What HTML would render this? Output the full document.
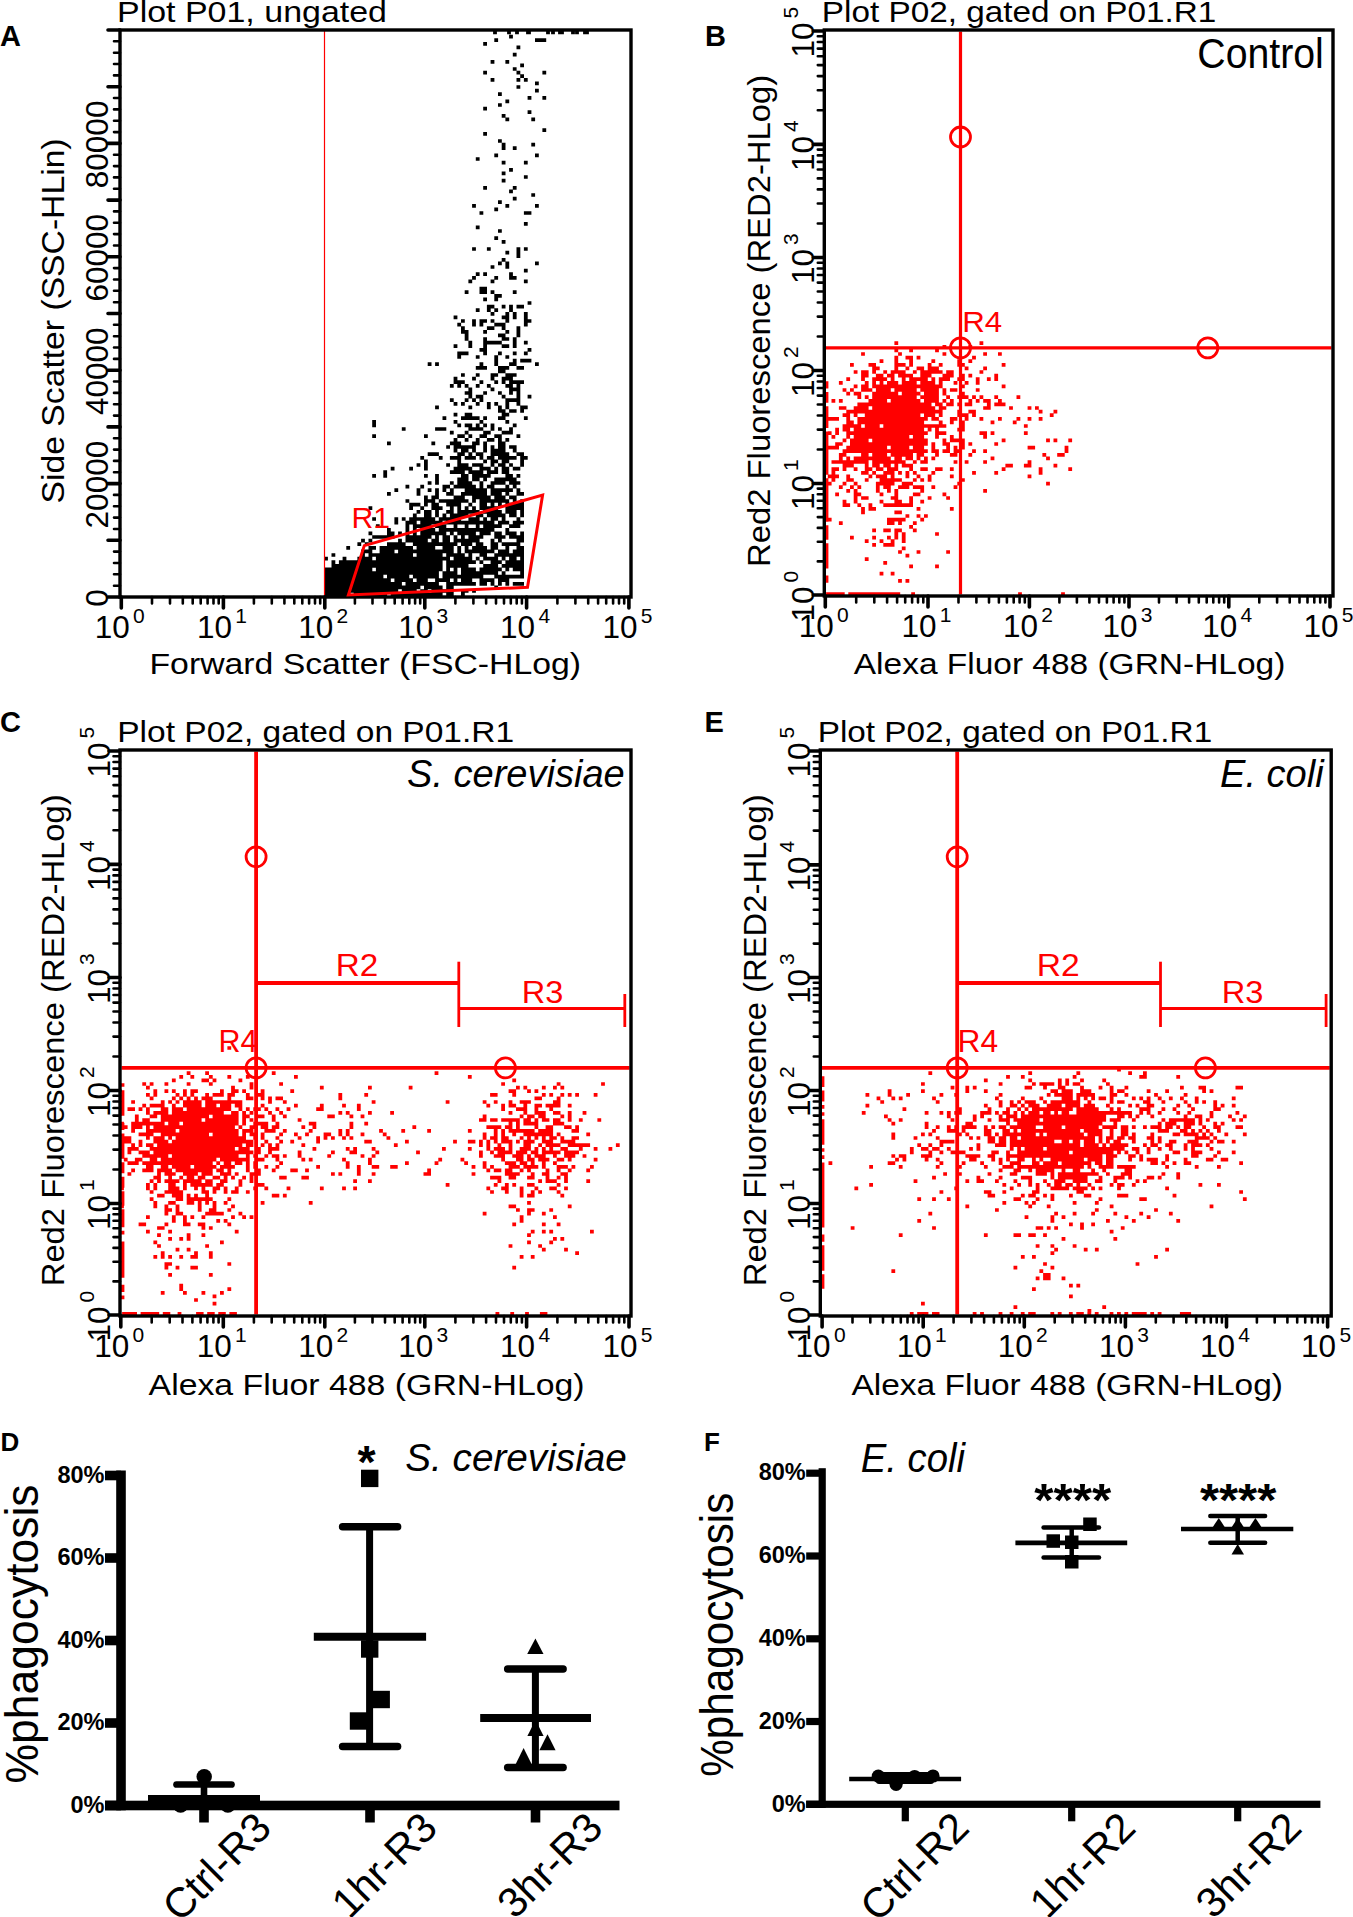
<!DOCTYPE html>
<html><head><meta charset="utf-8"><style>
html,body{margin:0;padding:0;background:#fff;overflow:hidden;}
svg{display:block;}
text{font-family:"Liberation Sans", sans-serif;}
</style></head><body>
<svg width="1353" height="1917" viewBox="0 0 1353 1917">
<path d="M509.1 36.6h3.8M494.3 40.2h3.8M535.0 40.2h3.8M538.7 40.2h3.8M542.4 40.2h3.8M483.2 43.8h3.8M516.5 47.4h3.8M512.8 54.6h3.8M490.6 61.8h3.8M505.4 61.8h3.8M520.2 65.4h3.8M512.8 69.0h3.8M483.2 72.6h3.8M516.5 72.6h3.8M542.4 72.6h3.8M520.2 76.2h3.8M490.6 79.8h3.8M516.5 79.8h3.8M523.9 79.8h3.8M535.0 83.4h3.8M516.5 87.0h3.8M535.0 90.6h3.8M498.0 94.2h3.8M527.6 97.8h3.8M542.4 97.8h3.8M505.4 101.4h3.8M498.0 105.0h3.8M483.2 108.6h3.8M527.6 112.2h3.8M501.7 115.8h3.8M505.4 119.4h3.8M531.3 119.4h3.8M542.4 130.2h3.8M483.2 133.8h3.8M498.0 141.0h3.8M501.7 144.6h3.8M531.3 144.6h3.8M501.7 148.2h3.8M512.8 148.2h3.8M494.3 155.4h3.8M535.0 155.4h3.8M475.8 159.0h3.8M501.7 162.6h3.8M523.9 162.6h3.8M509.1 169.8h3.8M501.7 173.4h3.8M523.9 177.0h3.8M501.7 180.6h3.8M483.2 187.8h3.8M512.8 187.8h3.8M509.1 191.4h3.8M531.3 195.0h3.8M512.8 198.6h3.8M498.0 202.2h3.8M472.1 205.8h3.8M505.4 205.8h3.8M535.0 205.8h3.8M494.3 209.4h3.8M479.5 213.0h3.8M523.9 213.0h3.8M527.6 213.0h3.8M523.9 223.8h3.8M475.8 227.4h3.8M498.0 231.0h3.8M494.3 238.2h3.8M501.7 241.8h3.8M472.1 249.0h3.8M486.9 249.0h3.8M516.5 249.0h3.8M523.9 249.0h3.8M505.4 252.6h3.8M516.5 252.6h3.8M516.5 256.2h3.8M501.7 259.8h3.8M498.0 263.4h3.8M505.4 263.4h3.8M535.0 263.4h3.8M490.6 267.0h3.8M505.4 267.0h3.8M523.9 270.6h3.8M475.8 274.2h3.8M483.2 274.2h3.8M509.1 274.2h3.8M472.1 277.8h3.8M494.3 277.8h3.8M509.1 277.8h3.8M512.8 277.8h3.8M468.4 281.4h3.8M490.6 281.4h3.8M523.9 281.4h3.8M479.5 288.6h3.8M483.2 288.6h3.8M464.7 292.2h3.8M479.5 292.2h3.8M483.2 292.2h3.8M490.6 292.2h3.8M512.8 292.2h3.8M494.3 295.8h3.8M498.0 295.8h3.8M483.2 299.4h3.8M494.3 299.4h3.8M527.6 303.0h3.8M486.9 306.6h3.8M490.6 306.6h3.8M501.7 306.6h3.8M509.1 306.6h3.8M516.5 306.6h3.8M520.2 306.6h3.8M475.8 310.2h3.8M486.9 310.2h3.8M494.3 310.2h3.8M509.1 310.2h3.8M490.6 313.8h3.8M505.4 313.8h3.8M512.8 313.8h3.8M523.9 313.8h3.8M453.6 317.4h3.8M501.7 317.4h3.8M505.4 317.4h3.8M512.8 317.4h3.8M523.9 317.4h3.8M461.0 321.0h3.8M472.1 321.0h3.8M479.5 321.0h3.8M483.2 321.0h3.8M490.6 321.0h3.8M505.4 321.0h3.8M523.9 321.0h3.8M527.6 321.0h3.8M457.3 324.6h3.8M472.1 324.6h3.8M479.5 324.6h3.8M494.3 324.6h3.8M498.0 324.6h3.8M501.7 324.6h3.8M523.9 324.6h3.8M461.0 328.2h3.8M486.9 328.2h3.8M490.6 328.2h3.8M501.7 328.2h3.8M516.5 328.2h3.8M461.0 331.8h3.8M464.7 331.8h3.8M483.2 331.8h3.8M505.4 331.8h3.8M516.5 331.8h3.8M464.7 335.4h3.8M498.0 335.4h3.8M501.7 335.4h3.8M516.5 335.4h3.8M464.7 339.0h3.8M483.2 339.0h3.8M501.7 339.0h3.8M505.4 339.0h3.8M512.8 339.0h3.8M468.4 342.6h3.8M483.2 342.6h3.8M486.9 342.6h3.8M490.6 342.6h3.8M494.3 342.6h3.8M498.0 342.6h3.8M512.8 342.6h3.8M523.9 342.6h3.8M453.6 346.2h3.8M468.4 346.2h3.8M483.2 346.2h3.8M501.7 346.2h3.8M505.4 346.2h3.8M512.8 346.2h3.8M479.5 349.8h3.8M483.2 349.8h3.8M527.6 349.8h3.8M457.3 353.4h3.8M461.0 353.4h3.8M464.7 353.4h3.8M483.2 353.4h3.8M498.0 353.4h3.8M512.8 353.4h3.8M523.9 353.4h3.8M457.3 357.0h3.8M475.8 357.0h3.8M494.3 357.0h3.8M505.4 357.0h3.8M494.3 360.6h3.8M512.8 360.6h3.8M520.2 360.6h3.8M523.9 360.6h3.8M527.6 360.6h3.8M427.7 364.2h3.8M435.1 364.2h3.8M479.5 364.2h3.8M494.3 364.2h3.8M509.1 364.2h3.8M512.8 364.2h3.8M535.0 364.2h3.8M475.8 367.8h3.8M479.5 367.8h3.8M483.2 367.8h3.8M498.0 367.8h3.8M501.7 367.8h3.8M505.4 367.8h3.8M516.5 367.8h3.8M520.2 367.8h3.8M498.0 371.4h3.8M501.7 371.4h3.8M461.0 375.0h3.8M475.8 375.0h3.8M490.6 375.0h3.8M494.3 375.0h3.8M505.4 375.0h3.8M509.1 375.0h3.8M512.8 375.0h3.8M453.6 378.6h3.8M472.1 378.6h3.8M490.6 378.6h3.8M501.7 378.6h3.8M505.4 378.6h3.8M509.1 378.6h3.8M453.6 382.2h3.8M457.3 382.2h3.8M461.0 382.2h3.8M479.5 382.2h3.8M494.3 382.2h3.8M501.7 382.2h3.8M509.1 382.2h3.8M512.8 382.2h3.8M516.5 382.2h3.8M520.2 382.2h3.8M449.9 385.8h3.8M457.3 385.8h3.8M464.7 385.8h3.8M475.8 385.8h3.8M486.9 385.8h3.8M505.4 385.8h3.8M509.1 385.8h3.8M516.5 385.8h3.8M468.4 389.4h3.8M490.6 389.4h3.8M509.1 389.4h3.8M512.8 389.4h3.8M516.5 389.4h3.8M464.7 393.0h3.8M468.4 393.0h3.8M483.2 393.0h3.8M498.0 393.0h3.8M509.1 393.0h3.8M516.5 393.0h3.8M468.4 396.6h3.8M475.8 396.6h3.8M479.5 396.6h3.8M501.7 396.6h3.8M516.5 396.6h3.8M527.6 396.6h3.8M449.9 400.2h3.8M464.7 400.2h3.8M472.1 400.2h3.8M479.5 400.2h3.8M505.4 400.2h3.8M509.1 400.2h3.8M512.8 400.2h3.8M516.5 400.2h3.8M453.6 403.8h3.8M461.0 403.8h3.8M475.8 403.8h3.8M486.9 403.8h3.8M494.3 403.8h3.8M505.4 403.8h3.8M516.5 403.8h3.8M435.1 407.4h3.8M468.4 407.4h3.8M486.9 407.4h3.8M498.0 407.4h3.8M505.4 407.4h3.8M520.2 407.4h3.8M523.9 407.4h3.8M498.0 411.0h3.8M501.7 411.0h3.8M509.1 411.0h3.8M512.8 411.0h3.8M520.2 411.0h3.8M453.6 414.6h3.8M464.7 414.6h3.8M468.4 414.6h3.8M501.7 414.6h3.8M505.4 414.6h3.8M442.5 418.2h3.8M461.0 418.2h3.8M464.7 418.2h3.8M468.4 418.2h3.8M472.1 418.2h3.8M475.8 418.2h3.8M483.2 418.2h3.8M498.0 418.2h3.8M501.7 418.2h3.8M523.9 418.2h3.8M372.2 421.8h3.8M453.6 421.8h3.8M479.5 421.8h3.8M505.4 421.8h3.8M372.2 425.4h3.8M457.3 425.4h3.8M464.7 425.4h3.8M468.4 425.4h3.8M475.8 425.4h3.8M483.2 425.4h3.8M490.6 425.4h3.8M512.8 425.4h3.8M401.8 429.0h3.8M435.1 429.0h3.8M438.8 429.0h3.8M442.5 429.0h3.8M468.4 429.0h3.8M472.1 429.0h3.8M475.8 429.0h3.8M479.5 429.0h3.8M490.6 429.0h3.8M498.0 429.0h3.8M509.1 429.0h3.8M449.9 432.6h3.8M464.7 432.6h3.8M483.2 432.6h3.8M486.9 432.6h3.8M501.7 432.6h3.8M505.4 432.6h3.8M509.1 432.6h3.8M372.2 436.2h3.8M424.0 436.2h3.8M457.3 436.2h3.8M461.0 436.2h3.8M468.4 436.2h3.8M479.5 436.2h3.8M483.2 436.2h3.8M494.3 436.2h3.8M498.0 436.2h3.8M516.5 436.2h3.8M453.6 439.8h3.8M464.7 439.8h3.8M475.8 439.8h3.8M486.9 439.8h3.8M490.6 439.8h3.8M498.0 439.8h3.8M505.4 439.8h3.8M387.0 443.4h3.8M431.4 443.4h3.8M449.9 443.4h3.8M453.6 443.4h3.8M457.3 443.4h3.8M472.1 443.4h3.8M475.8 443.4h3.8M483.2 443.4h3.8M498.0 443.4h3.8M501.7 443.4h3.8M446.2 447.0h3.8M453.6 447.0h3.8M457.3 447.0h3.8M461.0 447.0h3.8M464.7 447.0h3.8M468.4 447.0h3.8M472.1 447.0h3.8M483.2 447.0h3.8M490.6 447.0h3.8M498.0 447.0h3.8M501.7 447.0h3.8M509.1 447.0h3.8M512.8 447.0h3.8M453.6 450.6h3.8M461.0 450.6h3.8M464.7 450.6h3.8M472.1 450.6h3.8M483.2 450.6h3.8M490.6 450.6h3.8M494.3 450.6h3.8M498.0 450.6h3.8M501.7 450.6h3.8M512.8 450.6h3.8M427.7 454.2h3.8M431.4 454.2h3.8M435.1 454.2h3.8M457.3 454.2h3.8M461.0 454.2h3.8M468.4 454.2h3.8M475.8 454.2h3.8M479.5 454.2h3.8M490.6 454.2h3.8M494.3 454.2h3.8M498.0 454.2h3.8M501.7 454.2h3.8M505.4 454.2h3.8M516.5 454.2h3.8M520.2 454.2h3.8M420.3 457.8h3.8M438.8 457.8h3.8M449.9 457.8h3.8M453.6 457.8h3.8M457.3 457.8h3.8M464.7 457.8h3.8M468.4 457.8h3.8M472.1 457.8h3.8M479.5 457.8h3.8M486.9 457.8h3.8M490.6 457.8h3.8M498.0 457.8h3.8M501.7 457.8h3.8M505.4 457.8h3.8M509.1 457.8h3.8M512.8 457.8h3.8M520.2 457.8h3.8M523.9 457.8h3.8M424.0 461.4h3.8M457.3 461.4h3.8M483.2 461.4h3.8M490.6 461.4h3.8M494.3 461.4h3.8M501.7 461.4h3.8M505.4 461.4h3.8M520.2 461.4h3.8M416.6 465.0h3.8M424.0 465.0h3.8M446.2 465.0h3.8M457.3 465.0h3.8M461.0 465.0h3.8M464.7 465.0h3.8M472.1 465.0h3.8M475.8 465.0h3.8M479.5 465.0h3.8M490.6 465.0h3.8M498.0 465.0h3.8M501.7 465.0h3.8M509.1 465.0h3.8M520.2 465.0h3.8M390.7 468.6h3.8M409.2 468.6h3.8M424.0 468.6h3.8M453.6 468.6h3.8M457.3 468.6h3.8M461.0 468.6h3.8M464.7 468.6h3.8M468.4 468.6h3.8M479.5 468.6h3.8M483.2 468.6h3.8M486.9 468.6h3.8M494.3 468.6h3.8M501.7 468.6h3.8M505.4 468.6h3.8M512.8 468.6h3.8M516.5 468.6h3.8M383.3 472.2h3.8M449.9 472.2h3.8M453.6 472.2h3.8M457.3 472.2h3.8M461.0 472.2h3.8M468.4 472.2h3.8M472.1 472.2h3.8M475.8 472.2h3.8M479.5 472.2h3.8M486.9 472.2h3.8M490.6 472.2h3.8M494.3 472.2h3.8M501.7 472.2h3.8M505.4 472.2h3.8M372.2 475.8h3.8M383.3 475.8h3.8M424.0 475.8h3.8M435.1 475.8h3.8M461.0 475.8h3.8M464.7 475.8h3.8M472.1 475.8h3.8M475.8 475.8h3.8M479.5 475.8h3.8M483.2 475.8h3.8M486.9 475.8h3.8M505.4 475.8h3.8M509.1 475.8h3.8M516.5 475.8h3.8M435.1 479.4h3.8M457.3 479.4h3.8M461.0 479.4h3.8M464.7 479.4h3.8M472.1 479.4h3.8M475.8 479.4h3.8M483.2 479.4h3.8M494.3 479.4h3.8M498.0 479.4h3.8M501.7 479.4h3.8M505.4 479.4h3.8M509.1 479.4h3.8M512.8 479.4h3.8M427.7 483.0h3.8M435.1 483.0h3.8M449.9 483.0h3.8M457.3 483.0h3.8M461.0 483.0h3.8M464.7 483.0h3.8M468.4 483.0h3.8M479.5 483.0h3.8M490.6 483.0h3.8M494.3 483.0h3.8M498.0 483.0h3.8M501.7 483.0h3.8M509.1 483.0h3.8M512.8 483.0h3.8M516.5 483.0h3.8M405.5 486.6h3.8M420.3 486.6h3.8M442.5 486.6h3.8M446.2 486.6h3.8M453.6 486.6h3.8M457.3 486.6h3.8M461.0 486.6h3.8M464.7 486.6h3.8M468.4 486.6h3.8M472.1 486.6h3.8M479.5 486.6h3.8M486.9 486.6h3.8M490.6 486.6h3.8M505.4 486.6h3.8M512.8 486.6h3.8M394.4 490.2h3.8M416.6 490.2h3.8M427.7 490.2h3.8M435.1 490.2h3.8M442.5 490.2h3.8M449.9 490.2h3.8M464.7 490.2h3.8M468.4 490.2h3.8M472.1 490.2h3.8M475.8 490.2h3.8M479.5 490.2h3.8M483.2 490.2h3.8M490.6 490.2h3.8M494.3 490.2h3.8M498.0 490.2h3.8M501.7 490.2h3.8M505.4 490.2h3.8M509.1 490.2h3.8M516.5 490.2h3.8M387.0 493.8h3.8M416.6 493.8h3.8M435.1 493.8h3.8M446.2 493.8h3.8M449.9 493.8h3.8M461.0 493.8h3.8M464.7 493.8h3.8M468.4 493.8h3.8M472.1 493.8h3.8M475.8 493.8h3.8M479.5 493.8h3.8M483.2 493.8h3.8M490.6 493.8h3.8M494.3 493.8h3.8M498.0 493.8h3.8M505.4 493.8h3.8M516.5 493.8h3.8M520.2 493.8h3.8M424.0 497.4h3.8M431.4 497.4h3.8M435.1 497.4h3.8M453.6 497.4h3.8M457.3 497.4h3.8M461.0 497.4h3.8M472.1 497.4h3.8M475.8 497.4h3.8M479.5 497.4h3.8M483.2 497.4h3.8M486.9 497.4h3.8M494.3 497.4h3.8M498.0 497.4h3.8M501.7 497.4h3.8M509.1 497.4h3.8M512.8 497.4h3.8M405.5 501.0h3.8M424.0 501.0h3.8M427.7 501.0h3.8M431.4 501.0h3.8M438.8 501.0h3.8M442.5 501.0h3.8M446.2 501.0h3.8M449.9 501.0h3.8M453.6 501.0h3.8M457.3 501.0h3.8M461.0 501.0h3.8M464.7 501.0h3.8M472.1 501.0h3.8M479.5 501.0h3.8M483.2 501.0h3.8M486.9 501.0h3.8M490.6 501.0h3.8M494.3 501.0h3.8M498.0 501.0h3.8M501.7 501.0h3.8M505.4 501.0h3.8M512.8 501.0h3.8M520.2 501.0h3.8M409.2 504.6h3.8M412.9 504.6h3.8M416.6 504.6h3.8M424.0 504.6h3.8M431.4 504.6h3.8M435.1 504.6h3.8M446.2 504.6h3.8M449.9 504.6h3.8M453.6 504.6h3.8M457.3 504.6h3.8M468.4 504.6h3.8M479.5 504.6h3.8M483.2 504.6h3.8M490.6 504.6h3.8M498.0 504.6h3.8M505.4 504.6h3.8M509.1 504.6h3.8M512.8 504.6h3.8M516.5 504.6h3.8M520.2 504.6h3.8M368.5 508.2h3.8M409.2 508.2h3.8M420.3 508.2h3.8M431.4 508.2h3.8M435.1 508.2h3.8M438.8 508.2h3.8M449.9 508.2h3.8M457.3 508.2h3.8M464.7 508.2h3.8M472.1 508.2h3.8M479.5 508.2h3.8M483.2 508.2h3.8M486.9 508.2h3.8M490.6 508.2h3.8M494.3 508.2h3.8M505.4 508.2h3.8M509.1 508.2h3.8M512.8 508.2h3.8M516.5 508.2h3.8M520.2 508.2h3.8M416.6 511.8h3.8M424.0 511.8h3.8M427.7 511.8h3.8M435.1 511.8h3.8M446.2 511.8h3.8M449.9 511.8h3.8M457.3 511.8h3.8M461.0 511.8h3.8M464.7 511.8h3.8M468.4 511.8h3.8M472.1 511.8h3.8M475.8 511.8h3.8M483.2 511.8h3.8M486.9 511.8h3.8M490.6 511.8h3.8M494.3 511.8h3.8M498.0 511.8h3.8M505.4 511.8h3.8M509.1 511.8h3.8M512.8 511.8h3.8M520.2 511.8h3.8M412.9 515.4h3.8M424.0 515.4h3.8M427.7 515.4h3.8M435.1 515.4h3.8M442.5 515.4h3.8M449.9 515.4h3.8M453.6 515.4h3.8M457.3 515.4h3.8M461.0 515.4h3.8M464.7 515.4h3.8M475.8 515.4h3.8M479.5 515.4h3.8M486.9 515.4h3.8M490.6 515.4h3.8M494.3 515.4h3.8M498.0 515.4h3.8M501.7 515.4h3.8M509.1 515.4h3.8M512.8 515.4h3.8M520.2 515.4h3.8M372.2 519.0h3.8M394.4 519.0h3.8M401.8 519.0h3.8M409.2 519.0h3.8M412.9 519.0h3.8M416.6 519.0h3.8M420.3 519.0h3.8M424.0 519.0h3.8M427.7 519.0h3.8M431.4 519.0h3.8M438.8 519.0h3.8M442.5 519.0h3.8M446.2 519.0h3.8M449.9 519.0h3.8M453.6 519.0h3.8M457.3 519.0h3.8M468.4 519.0h3.8M472.1 519.0h3.8M475.8 519.0h3.8M483.2 519.0h3.8M490.6 519.0h3.8M494.3 519.0h3.8M501.7 519.0h3.8M516.5 519.0h3.8M394.4 522.6h3.8M405.5 522.6h3.8M409.2 522.6h3.8M412.9 522.6h3.8M420.3 522.6h3.8M424.0 522.6h3.8M427.7 522.6h3.8M431.4 522.6h3.8M435.1 522.6h3.8M438.8 522.6h3.8M446.2 522.6h3.8M449.9 522.6h3.8M453.6 522.6h3.8M457.3 522.6h3.8M461.0 522.6h3.8M464.7 522.6h3.8M468.4 522.6h3.8M472.1 522.6h3.8M475.8 522.6h3.8M479.5 522.6h3.8M483.2 522.6h3.8M486.9 522.6h3.8M490.6 522.6h3.8M498.0 522.6h3.8M501.7 522.6h3.8M505.4 522.6h3.8M512.8 522.6h3.8M516.5 522.6h3.8M520.2 522.6h3.8M375.9 526.2h3.8M405.5 526.2h3.8M412.9 526.2h3.8M416.6 526.2h3.8M420.3 526.2h3.8M424.0 526.2h3.8M427.7 526.2h3.8M435.1 526.2h3.8M438.8 526.2h3.8M442.5 526.2h3.8M453.6 526.2h3.8M464.7 526.2h3.8M475.8 526.2h3.8M483.2 526.2h3.8M486.9 526.2h3.8M490.6 526.2h3.8M494.3 526.2h3.8M498.0 526.2h3.8M509.1 526.2h3.8M512.8 526.2h3.8M516.5 526.2h3.8M387.0 529.8h3.8M405.5 529.8h3.8M412.9 529.8h3.8M420.3 529.8h3.8M424.0 529.8h3.8M427.7 529.8h3.8M431.4 529.8h3.8M438.8 529.8h3.8M442.5 529.8h3.8M446.2 529.8h3.8M449.9 529.8h3.8M453.6 529.8h3.8M457.3 529.8h3.8M461.0 529.8h3.8M464.7 529.8h3.8M468.4 529.8h3.8M472.1 529.8h3.8M475.8 529.8h3.8M479.5 529.8h3.8M483.2 529.8h3.8M486.9 529.8h3.8M490.6 529.8h3.8M505.4 529.8h3.8M368.5 533.4h3.8M387.0 533.4h3.8M390.7 533.4h3.8M398.1 533.4h3.8M405.5 533.4h3.8M412.9 533.4h3.8M420.3 533.4h3.8M424.0 533.4h3.8M427.7 533.4h3.8M431.4 533.4h3.8M435.1 533.4h3.8M438.8 533.4h3.8M442.5 533.4h3.8M449.9 533.4h3.8M457.3 533.4h3.8M461.0 533.4h3.8M464.7 533.4h3.8M468.4 533.4h3.8M472.1 533.4h3.8M479.5 533.4h3.8M483.2 533.4h3.8M486.9 533.4h3.8M494.3 533.4h3.8M498.0 533.4h3.8M505.4 533.4h3.8M509.1 533.4h3.8M512.8 533.4h3.8M520.2 533.4h3.8M372.2 537.0h3.8M375.9 537.0h3.8M379.6 537.0h3.8M383.3 537.0h3.8M387.0 537.0h3.8M390.7 537.0h3.8M405.5 537.0h3.8M409.2 537.0h3.8M412.9 537.0h3.8M416.6 537.0h3.8M420.3 537.0h3.8M424.0 537.0h3.8M427.7 537.0h3.8M435.1 537.0h3.8M442.5 537.0h3.8M446.2 537.0h3.8M453.6 537.0h3.8M461.0 537.0h3.8M468.4 537.0h3.8M472.1 537.0h3.8M475.8 537.0h3.8M479.5 537.0h3.8M494.3 537.0h3.8M498.0 537.0h3.8M501.7 537.0h3.8M509.1 537.0h3.8M512.8 537.0h3.8M516.5 537.0h3.8M520.2 537.0h3.8M361.1 540.6h3.8M368.5 540.6h3.8M398.1 540.6h3.8M405.5 540.6h3.8M409.2 540.6h3.8M412.9 540.6h3.8M416.6 540.6h3.8M420.3 540.6h3.8M424.0 540.6h3.8M431.4 540.6h3.8M435.1 540.6h3.8M442.5 540.6h3.8M446.2 540.6h3.8M453.6 540.6h3.8M457.3 540.6h3.8M461.0 540.6h3.8M464.7 540.6h3.8M468.4 540.6h3.8M472.1 540.6h3.8M475.8 540.6h3.8M490.6 540.6h3.8M498.0 540.6h3.8M516.5 540.6h3.8M520.2 540.6h3.8M357.4 544.2h3.8M364.8 544.2h3.8M387.0 544.2h3.8M390.7 544.2h3.8M394.4 544.2h3.8M398.1 544.2h3.8M401.8 544.2h3.8M412.9 544.2h3.8M416.6 544.2h3.8M420.3 544.2h3.8M424.0 544.2h3.8M427.7 544.2h3.8M431.4 544.2h3.8M435.1 544.2h3.8M438.8 544.2h3.8M442.5 544.2h3.8M446.2 544.2h3.8M449.9 544.2h3.8M453.6 544.2h3.8M461.0 544.2h3.8M464.7 544.2h3.8M468.4 544.2h3.8M475.8 544.2h3.8M479.5 544.2h3.8M490.6 544.2h3.8M494.3 544.2h3.8M501.7 544.2h3.8M505.4 544.2h3.8M509.1 544.2h3.8M512.8 544.2h3.8M516.5 544.2h3.8M346.3 547.8h3.8M368.5 547.8h3.8M372.2 547.8h3.8M379.6 547.8h3.8M383.3 547.8h3.8M387.0 547.8h3.8M390.7 547.8h3.8M394.4 547.8h3.8M398.1 547.8h3.8M401.8 547.8h3.8M405.5 547.8h3.8M409.2 547.8h3.8M416.6 547.8h3.8M420.3 547.8h3.8M424.0 547.8h3.8M427.7 547.8h3.8M431.4 547.8h3.8M442.5 547.8h3.8M446.2 547.8h3.8M449.9 547.8h3.8M457.3 547.8h3.8M464.7 547.8h3.8M472.1 547.8h3.8M475.8 547.8h3.8M479.5 547.8h3.8M483.2 547.8h3.8M490.6 547.8h3.8M494.3 547.8h3.8M505.4 547.8h3.8M516.5 547.8h3.8M520.2 547.8h3.8M361.1 551.4h3.8M364.8 551.4h3.8M368.5 551.4h3.8M379.6 551.4h3.8M383.3 551.4h3.8M387.0 551.4h3.8M390.7 551.4h3.8M398.1 551.4h3.8M401.8 551.4h3.8M405.5 551.4h3.8M409.2 551.4h3.8M412.9 551.4h3.8M416.6 551.4h3.8M420.3 551.4h3.8M424.0 551.4h3.8M427.7 551.4h3.8M431.4 551.4h3.8M435.1 551.4h3.8M438.8 551.4h3.8M442.5 551.4h3.8M446.2 551.4h3.8M449.9 551.4h3.8M457.3 551.4h3.8M464.7 551.4h3.8M468.4 551.4h3.8M472.1 551.4h3.8M475.8 551.4h3.8M479.5 551.4h3.8M483.2 551.4h3.8M486.9 551.4h3.8M490.6 551.4h3.8M498.0 551.4h3.8M501.7 551.4h3.8M505.4 551.4h3.8M512.8 551.4h3.8M516.5 551.4h3.8M520.2 551.4h3.8M331.5 555.0h3.8M361.1 555.0h3.8M368.5 555.0h3.8M372.2 555.0h3.8M375.9 555.0h3.8M379.6 555.0h3.8M383.3 555.0h3.8M387.0 555.0h3.8M390.7 555.0h3.8M394.4 555.0h3.8M398.1 555.0h3.8M401.8 555.0h3.8M405.5 555.0h3.8M409.2 555.0h3.8M416.6 555.0h3.8M420.3 555.0h3.8M424.0 555.0h3.8M427.7 555.0h3.8M431.4 555.0h3.8M435.1 555.0h3.8M438.8 555.0h3.8M446.2 555.0h3.8M449.9 555.0h3.8M453.6 555.0h3.8M457.3 555.0h3.8M461.0 555.0h3.8M468.4 555.0h3.8M479.5 555.0h3.8M483.2 555.0h3.8M494.3 555.0h3.8M498.0 555.0h3.8M501.7 555.0h3.8M505.4 555.0h3.8M509.1 555.0h3.8M512.8 555.0h3.8M516.5 555.0h3.8M520.2 555.0h3.8M324.1 558.6h3.8M342.6 558.6h3.8M357.4 558.6h3.8M361.1 558.6h3.8M364.8 558.6h3.8M368.5 558.6h3.8M375.9 558.6h3.8M379.6 558.6h3.8M383.3 558.6h3.8M387.0 558.6h3.8M390.7 558.6h3.8M394.4 558.6h3.8M398.1 558.6h3.8M401.8 558.6h3.8M405.5 558.6h3.8M409.2 558.6h3.8M412.9 558.6h3.8M416.6 558.6h3.8M420.3 558.6h3.8M424.0 558.6h3.8M427.7 558.6h3.8M431.4 558.6h3.8M435.1 558.6h3.8M438.8 558.6h3.8M442.5 558.6h3.8M446.2 558.6h3.8M453.6 558.6h3.8M457.3 558.6h3.8M461.0 558.6h3.8M464.7 558.6h3.8M468.4 558.6h3.8M475.8 558.6h3.8M483.2 558.6h3.8M486.9 558.6h3.8M490.6 558.6h3.8M494.3 558.6h3.8M501.7 558.6h3.8M509.1 558.6h3.8M512.8 558.6h3.8M520.2 558.6h3.8M331.5 562.2h3.8M338.9 562.2h3.8M342.6 562.2h3.8M346.3 562.2h3.8M350.0 562.2h3.8M353.7 562.2h3.8M357.4 562.2h3.8M361.1 562.2h3.8M364.8 562.2h3.8M368.5 562.2h3.8M372.2 562.2h3.8M375.9 562.2h3.8M379.6 562.2h3.8M383.3 562.2h3.8M387.0 562.2h3.8M390.7 562.2h3.8M394.4 562.2h3.8M398.1 562.2h3.8M401.8 562.2h3.8M405.5 562.2h3.8M409.2 562.2h3.8M412.9 562.2h3.8M416.6 562.2h3.8M420.3 562.2h3.8M424.0 562.2h3.8M427.7 562.2h3.8M431.4 562.2h3.8M435.1 562.2h3.8M438.8 562.2h3.8M446.2 562.2h3.8M449.9 562.2h3.8M453.6 562.2h3.8M457.3 562.2h3.8M461.0 562.2h3.8M464.7 562.2h3.8M468.4 562.2h3.8M472.1 562.2h3.8M479.5 562.2h3.8M490.6 562.2h3.8M494.3 562.2h3.8M498.0 562.2h3.8M505.4 562.2h3.8M509.1 562.2h3.8M512.8 562.2h3.8M516.5 562.2h3.8M520.2 562.2h3.8M331.5 565.8h3.8M335.2 565.8h3.8M338.9 565.8h3.8M342.6 565.8h3.8M346.3 565.8h3.8M350.0 565.8h3.8M353.7 565.8h3.8M357.4 565.8h3.8M361.1 565.8h3.8M364.8 565.8h3.8M368.5 565.8h3.8M372.2 565.8h3.8M375.9 565.8h3.8M379.6 565.8h3.8M383.3 565.8h3.8M387.0 565.8h3.8M390.7 565.8h3.8M394.4 565.8h3.8M398.1 565.8h3.8M401.8 565.8h3.8M405.5 565.8h3.8M409.2 565.8h3.8M412.9 565.8h3.8M416.6 565.8h3.8M420.3 565.8h3.8M424.0 565.8h3.8M427.7 565.8h3.8M431.4 565.8h3.8M435.1 565.8h3.8M438.8 565.8h3.8M446.2 565.8h3.8M449.9 565.8h3.8M453.6 565.8h3.8M457.3 565.8h3.8M461.0 565.8h3.8M464.7 565.8h3.8M483.2 565.8h3.8M486.9 565.8h3.8M490.6 565.8h3.8M494.3 565.8h3.8M501.7 565.8h3.8M505.4 565.8h3.8M509.1 565.8h3.8M512.8 565.8h3.8M516.5 565.8h3.8M520.2 565.8h3.8M324.1 569.4h3.8M327.8 569.4h3.8M331.5 569.4h3.8M335.2 569.4h3.8M338.9 569.4h3.8M342.6 569.4h3.8M346.3 569.4h3.8M350.0 569.4h3.8M353.7 569.4h3.8M357.4 569.4h3.8M361.1 569.4h3.8M364.8 569.4h3.8M368.5 569.4h3.8M375.9 569.4h3.8M379.6 569.4h3.8M383.3 569.4h3.8M387.0 569.4h3.8M390.7 569.4h3.8M394.4 569.4h3.8M398.1 569.4h3.8M401.8 569.4h3.8M405.5 569.4h3.8M409.2 569.4h3.8M412.9 569.4h3.8M416.6 569.4h3.8M420.3 569.4h3.8M424.0 569.4h3.8M427.7 569.4h3.8M431.4 569.4h3.8M435.1 569.4h3.8M438.8 569.4h3.8M446.2 569.4h3.8M453.6 569.4h3.8M461.0 569.4h3.8M464.7 569.4h3.8M468.4 569.4h3.8M472.1 569.4h3.8M479.5 569.4h3.8M483.2 569.4h3.8M486.9 569.4h3.8M490.6 569.4h3.8M494.3 569.4h3.8M498.0 569.4h3.8M505.4 569.4h3.8M512.8 569.4h3.8M516.5 569.4h3.8M520.2 569.4h3.8M324.1 573.0h3.8M327.8 573.0h3.8M331.5 573.0h3.8M335.2 573.0h3.8M338.9 573.0h3.8M342.6 573.0h3.8M346.3 573.0h3.8M350.0 573.0h3.8M353.7 573.0h3.8M357.4 573.0h3.8M361.1 573.0h3.8M364.8 573.0h3.8M368.5 573.0h3.8M372.2 573.0h3.8M375.9 573.0h3.8M379.6 573.0h3.8M383.3 573.0h3.8M387.0 573.0h3.8M390.7 573.0h3.8M394.4 573.0h3.8M398.1 573.0h3.8M401.8 573.0h3.8M405.5 573.0h3.8M409.2 573.0h3.8M412.9 573.0h3.8M416.6 573.0h3.8M420.3 573.0h3.8M424.0 573.0h3.8M427.7 573.0h3.8M431.4 573.0h3.8M435.1 573.0h3.8M442.5 573.0h3.8M446.2 573.0h3.8M449.9 573.0h3.8M453.6 573.0h3.8M461.0 573.0h3.8M464.7 573.0h3.8M468.4 573.0h3.8M472.1 573.0h3.8M475.8 573.0h3.8M479.5 573.0h3.8M483.2 573.0h3.8M486.9 573.0h3.8M490.6 573.0h3.8M494.3 573.0h3.8M501.7 573.0h3.8M520.2 573.0h3.8M324.1 576.6h3.8M327.8 576.6h3.8M331.5 576.6h3.8M335.2 576.6h3.8M338.9 576.6h3.8M342.6 576.6h3.8M346.3 576.6h3.8M350.0 576.6h3.8M353.7 576.6h3.8M357.4 576.6h3.8M361.1 576.6h3.8M364.8 576.6h3.8M368.5 576.6h3.8M372.2 576.6h3.8M375.9 576.6h3.8M379.6 576.6h3.8M387.0 576.6h3.8M390.7 576.6h3.8M394.4 576.6h3.8M398.1 576.6h3.8M401.8 576.6h3.8M405.5 576.6h3.8M412.9 576.6h3.8M416.6 576.6h3.8M420.3 576.6h3.8M424.0 576.6h3.8M427.7 576.6h3.8M431.4 576.6h3.8M435.1 576.6h3.8M442.5 576.6h3.8M446.2 576.6h3.8M449.9 576.6h3.8M453.6 576.6h3.8M457.3 576.6h3.8M461.0 576.6h3.8M464.7 576.6h3.8M468.4 576.6h3.8M472.1 576.6h3.8M475.8 576.6h3.8M479.5 576.6h3.8M494.3 576.6h3.8M498.0 576.6h3.8M501.7 576.6h3.8M505.4 576.6h3.8M509.1 576.6h3.8M512.8 576.6h3.8M516.5 576.6h3.8M520.2 576.6h3.8M324.1 580.2h3.8M327.8 580.2h3.8M331.5 580.2h3.8M335.2 580.2h3.8M338.9 580.2h3.8M342.6 580.2h3.8M346.3 580.2h3.8M350.0 580.2h3.8M353.7 580.2h3.8M357.4 580.2h3.8M361.1 580.2h3.8M364.8 580.2h3.8M368.5 580.2h3.8M372.2 580.2h3.8M375.9 580.2h3.8M379.6 580.2h3.8M383.3 580.2h3.8M387.0 580.2h3.8M394.4 580.2h3.8M398.1 580.2h3.8M401.8 580.2h3.8M405.5 580.2h3.8M409.2 580.2h3.8M416.6 580.2h3.8M420.3 580.2h3.8M424.0 580.2h3.8M435.1 580.2h3.8M438.8 580.2h3.8M442.5 580.2h3.8M446.2 580.2h3.8M453.6 580.2h3.8M461.0 580.2h3.8M464.7 580.2h3.8M468.4 580.2h3.8M479.5 580.2h3.8M483.2 580.2h3.8M486.9 580.2h3.8M490.6 580.2h3.8M498.0 580.2h3.8M501.7 580.2h3.8M505.4 580.2h3.8M324.1 583.8h3.8M327.8 583.8h3.8M331.5 583.8h3.8M335.2 583.8h3.8M338.9 583.8h3.8M342.6 583.8h3.8M346.3 583.8h3.8M350.0 583.8h3.8M353.7 583.8h3.8M357.4 583.8h3.8M361.1 583.8h3.8M364.8 583.8h3.8M368.5 583.8h3.8M372.2 583.8h3.8M375.9 583.8h3.8M379.6 583.8h3.8M383.3 583.8h3.8M387.0 583.8h3.8M390.7 583.8h3.8M394.4 583.8h3.8M398.1 583.8h3.8M405.5 583.8h3.8M409.2 583.8h3.8M412.9 583.8h3.8M416.6 583.8h3.8M420.3 583.8h3.8M424.0 583.8h3.8M427.7 583.8h3.8M431.4 583.8h3.8M435.1 583.8h3.8M446.2 583.8h3.8M449.9 583.8h3.8M453.6 583.8h3.8M457.3 583.8h3.8M461.0 583.8h3.8M464.7 583.8h3.8M468.4 583.8h3.8M472.1 583.8h3.8M479.5 583.8h3.8M483.2 583.8h3.8M490.6 583.8h3.8M498.0 583.8h3.8M505.4 583.8h3.8M512.8 583.8h3.8M516.5 583.8h3.8M520.2 583.8h3.8M324.1 587.4h3.8M327.8 587.4h3.8M331.5 587.4h3.8M335.2 587.4h3.8M338.9 587.4h3.8M342.6 587.4h3.8M346.3 587.4h3.8M350.0 587.4h3.8M353.7 587.4h3.8M357.4 587.4h3.8M361.1 587.4h3.8M364.8 587.4h3.8M368.5 587.4h3.8M372.2 587.4h3.8M375.9 587.4h3.8M379.6 587.4h3.8M383.3 587.4h3.8M387.0 587.4h3.8M390.7 587.4h3.8M394.4 587.4h3.8M398.1 587.4h3.8M401.8 587.4h3.8M405.5 587.4h3.8M409.2 587.4h3.8M412.9 587.4h3.8M416.6 587.4h3.8M424.0 587.4h3.8M427.7 587.4h3.8M431.4 587.4h3.8M435.1 587.4h3.8M438.8 587.4h3.8M446.2 587.4h3.8M449.9 587.4h3.8M494.3 587.4h3.8M324.1 591.0h3.8M327.8 591.0h3.8M331.5 591.0h3.8M335.2 591.0h3.8M338.9 591.0h3.8M342.6 591.0h3.8M346.3 591.0h3.8M350.0 591.0h3.8M353.7 591.0h3.8M357.4 591.0h3.8M361.1 591.0h3.8M364.8 591.0h3.8M368.5 591.0h3.8M372.2 591.0h3.8M375.9 591.0h3.8M379.6 591.0h3.8M383.3 591.0h3.8M387.0 591.0h3.8M390.7 591.0h3.8M394.4 591.0h3.8M401.8 591.0h3.8M405.5 591.0h3.8M409.2 591.0h3.8M412.9 591.0h3.8M420.3 591.0h3.8M424.0 591.0h3.8M431.4 591.0h3.8M435.1 591.0h3.8M438.8 591.0h3.8M442.5 591.0h3.8M446.2 591.0h3.8M449.9 591.0h3.8M461.0 591.0h3.8M464.7 591.0h3.8M472.1 591.0h3.8M324.1 594.6h3.8M327.8 594.6h3.8M331.5 594.6h3.8M335.2 594.6h3.8M338.9 594.6h3.8M342.6 594.6h3.8M346.3 594.6h3.8M353.7 594.6h3.8M357.4 594.6h3.8M361.1 594.6h3.8M364.8 594.6h3.8M368.5 594.6h3.8M372.2 594.6h3.8M375.9 594.6h3.8M379.6 594.6h3.8M383.3 594.6h3.8M390.7 594.6h3.8M394.4 594.6h3.8M398.1 594.6h3.8M401.8 594.6h3.8M405.5 594.6h3.8M409.2 594.6h3.8M412.9 594.6h3.8M416.6 594.6h3.8M420.3 594.6h3.8M424.0 594.6h3.8M427.7 594.6h3.8M431.4 594.6h3.8M435.1 594.6h3.8M438.8 594.6h3.8M446.2 594.6h3.8M449.9 594.6h3.8M461.0 594.6h3.8M558.1 32.5h3.8M585.1 32.5h3.8M526.1 32.5h3.8M559.1 32.5h3.8M551.1 32.5h3.8M559.1 32.5h3.8M585.1 32.5h3.8M527.1 32.5h3.8M515.1 32.5h3.8M571.1 32.5h3.8M507.1 32.5h3.8M546.1 32.5h3.8M583.1 32.5h3.8M575.1 32.5h3.8M560.1 32.5h3.8M493.1 32.5h3.8" stroke="#000" stroke-width="3.7"/>
<path d="M894.4 343.2h3.8M979.5 343.2h3.8M942.5 346.8h3.8M968.4 346.8h3.8M894.4 350.4h3.8M909.2 350.4h3.8M935.1 350.4h3.8M861.1 354.0h3.8M898.1 354.0h3.8M942.5 354.0h3.8M983.2 354.0h3.8M998.0 354.0h3.8M894.4 357.6h3.8M905.5 357.6h3.8M909.2 357.6h3.8M916.6 357.6h3.8M972.1 357.6h3.8M879.6 361.2h3.8M894.4 361.2h3.8M909.2 361.2h3.8M931.4 361.2h3.8M957.3 361.2h3.8M968.4 361.2h3.8M850.0 364.8h3.8M868.5 364.8h3.8M872.2 364.8h3.8M894.4 364.8h3.8M898.1 364.8h3.8M901.8 364.8h3.8M909.2 364.8h3.8M927.7 364.8h3.8M938.8 364.8h3.8M957.3 364.8h3.8M961.0 364.8h3.8M1001.7 364.8h3.8M872.2 368.4h3.8M875.9 368.4h3.8M894.4 368.4h3.8M905.5 368.4h3.8M916.6 368.4h3.8M920.3 368.4h3.8M927.7 368.4h3.8M931.4 368.4h3.8M935.1 368.4h3.8M964.7 368.4h3.8M983.2 368.4h3.8M853.7 372.0h3.8M861.1 372.0h3.8M864.8 372.0h3.8M872.2 372.0h3.8M883.3 372.0h3.8M890.7 372.0h3.8M894.4 372.0h3.8M898.1 372.0h3.8M901.8 372.0h3.8M912.9 372.0h3.8M920.3 372.0h3.8M924.0 372.0h3.8M927.7 372.0h3.8M931.4 372.0h3.8M935.1 372.0h3.8M938.8 372.0h3.8M946.2 372.0h3.8M949.9 372.0h3.8M979.5 372.0h3.8M861.1 375.6h3.8M864.8 375.6h3.8M875.9 375.6h3.8M879.6 375.6h3.8M887.0 375.6h3.8M890.7 375.6h3.8M898.1 375.6h3.8M901.8 375.6h3.8M905.5 375.6h3.8M909.2 375.6h3.8M920.3 375.6h3.8M924.0 375.6h3.8M927.7 375.6h3.8M942.5 375.6h3.8M946.2 375.6h3.8M949.9 375.6h3.8M961.0 375.6h3.8M968.4 375.6h3.8M994.3 375.6h3.8M846.3 379.2h3.8M861.1 379.2h3.8M872.2 379.2h3.8M875.9 379.2h3.8M879.6 379.2h3.8M883.3 379.2h3.8M890.7 379.2h3.8M901.8 379.2h3.8M909.2 379.2h3.8M912.9 379.2h3.8M916.6 379.2h3.8M920.3 379.2h3.8M924.0 379.2h3.8M931.4 379.2h3.8M938.8 379.2h3.8M942.5 379.2h3.8M946.2 379.2h3.8M957.3 379.2h3.8M961.0 379.2h3.8M975.8 379.2h3.8M986.9 379.2h3.8M994.3 379.2h3.8M838.9 382.8h3.8M864.8 382.8h3.8M872.2 382.8h3.8M879.6 382.8h3.8M887.0 382.8h3.8M890.7 382.8h3.8M894.4 382.8h3.8M901.8 382.8h3.8M905.5 382.8h3.8M909.2 382.8h3.8M912.9 382.8h3.8M920.3 382.8h3.8M924.0 382.8h3.8M927.7 382.8h3.8M931.4 382.8h3.8M938.8 382.8h3.8M953.6 382.8h3.8M964.7 382.8h3.8M975.8 382.8h3.8M853.7 386.4h3.8M861.1 386.4h3.8M864.8 386.4h3.8M872.2 386.4h3.8M875.9 386.4h3.8M879.6 386.4h3.8M883.3 386.4h3.8M887.0 386.4h3.8M890.7 386.4h3.8M894.4 386.4h3.8M898.1 386.4h3.8M901.8 386.4h3.8M905.5 386.4h3.8M909.2 386.4h3.8M912.9 386.4h3.8M916.6 386.4h3.8M920.3 386.4h3.8M924.0 386.4h3.8M927.7 386.4h3.8M931.4 386.4h3.8M935.1 386.4h3.8M938.8 386.4h3.8M961.0 386.4h3.8M1001.7 386.4h3.8M842.6 390.0h3.8M850.0 390.0h3.8M861.1 390.0h3.8M864.8 390.0h3.8M868.5 390.0h3.8M875.9 390.0h3.8M879.6 390.0h3.8M883.3 390.0h3.8M887.0 390.0h3.8M894.4 390.0h3.8M898.1 390.0h3.8M901.8 390.0h3.8M905.5 390.0h3.8M909.2 390.0h3.8M912.9 390.0h3.8M920.3 390.0h3.8M924.0 390.0h3.8M927.7 390.0h3.8M931.4 390.0h3.8M935.1 390.0h3.8M942.5 390.0h3.8M949.9 390.0h3.8M953.6 390.0h3.8M975.8 390.0h3.8M846.3 393.6h3.8M853.7 393.6h3.8M857.4 393.6h3.8M872.2 393.6h3.8M875.9 393.6h3.8M879.6 393.6h3.8M883.3 393.6h3.8M887.0 393.6h3.8M890.7 393.6h3.8M894.4 393.6h3.8M901.8 393.6h3.8M905.5 393.6h3.8M909.2 393.6h3.8M912.9 393.6h3.8M916.6 393.6h3.8M924.0 393.6h3.8M927.7 393.6h3.8M931.4 393.6h3.8M935.1 393.6h3.8M942.5 393.6h3.8M961.0 393.6h3.8M857.4 397.2h3.8M864.8 397.2h3.8M872.2 397.2h3.8M875.9 397.2h3.8M879.6 397.2h3.8M883.3 397.2h3.8M887.0 397.2h3.8M890.7 397.2h3.8M894.4 397.2h3.8M898.1 397.2h3.8M901.8 397.2h3.8M905.5 397.2h3.8M909.2 397.2h3.8M912.9 397.2h3.8M920.3 397.2h3.8M924.0 397.2h3.8M927.7 397.2h3.8M931.4 397.2h3.8M935.1 397.2h3.8M946.2 397.2h3.8M957.3 397.2h3.8M961.0 397.2h3.8M964.7 397.2h3.8M972.1 397.2h3.8M979.5 397.2h3.8M994.3 397.2h3.8M1016.5 397.2h3.8M831.5 400.8h3.8M838.9 400.8h3.8M868.5 400.8h3.8M872.2 400.8h3.8M875.9 400.8h3.8M879.6 400.8h3.8M883.3 400.8h3.8M890.7 400.8h3.8M894.4 400.8h3.8M898.1 400.8h3.8M901.8 400.8h3.8M905.5 400.8h3.8M909.2 400.8h3.8M912.9 400.8h3.8M916.6 400.8h3.8M924.0 400.8h3.8M927.7 400.8h3.8M931.4 400.8h3.8M935.1 400.8h3.8M942.5 400.8h3.8M949.9 400.8h3.8M968.4 400.8h3.8M975.8 400.8h3.8M983.2 400.8h3.8M986.9 400.8h3.8M998.0 400.8h3.8M857.4 404.4h3.8M861.1 404.4h3.8M864.8 404.4h3.8M868.5 404.4h3.8M872.2 404.4h3.8M875.9 404.4h3.8M879.6 404.4h3.8M883.3 404.4h3.8M887.0 404.4h3.8M890.7 404.4h3.8M894.4 404.4h3.8M898.1 404.4h3.8M901.8 404.4h3.8M905.5 404.4h3.8M909.2 404.4h3.8M912.9 404.4h3.8M916.6 404.4h3.8M920.3 404.4h3.8M924.0 404.4h3.8M927.7 404.4h3.8M935.1 404.4h3.8M938.8 404.4h3.8M946.2 404.4h3.8M949.9 404.4h3.8M957.3 404.4h3.8M964.7 404.4h3.8M968.4 404.4h3.8M986.9 404.4h3.8M994.3 404.4h3.8M998.0 404.4h3.8M1001.7 404.4h3.8M838.9 408.0h3.8M842.6 408.0h3.8M853.7 408.0h3.8M857.4 408.0h3.8M861.1 408.0h3.8M864.8 408.0h3.8M872.2 408.0h3.8M875.9 408.0h3.8M879.6 408.0h3.8M883.3 408.0h3.8M887.0 408.0h3.8M890.7 408.0h3.8M894.4 408.0h3.8M898.1 408.0h3.8M901.8 408.0h3.8M905.5 408.0h3.8M909.2 408.0h3.8M912.9 408.0h3.8M916.6 408.0h3.8M920.3 408.0h3.8M924.0 408.0h3.8M927.7 408.0h3.8M931.4 408.0h3.8M938.8 408.0h3.8M942.5 408.0h3.8M983.2 408.0h3.8M986.9 408.0h3.8M1009.1 408.0h3.8M1027.6 408.0h3.8M1035.0 408.0h3.8M846.3 411.6h3.8M850.0 411.6h3.8M853.7 411.6h3.8M857.4 411.6h3.8M861.1 411.6h3.8M864.8 411.6h3.8M868.5 411.6h3.8M872.2 411.6h3.8M875.9 411.6h3.8M879.6 411.6h3.8M883.3 411.6h3.8M887.0 411.6h3.8M890.7 411.6h3.8M894.4 411.6h3.8M898.1 411.6h3.8M901.8 411.6h3.8M905.5 411.6h3.8M909.2 411.6h3.8M912.9 411.6h3.8M916.6 411.6h3.8M920.3 411.6h3.8M924.0 411.6h3.8M927.7 411.6h3.8M931.4 411.6h3.8M935.1 411.6h3.8M938.8 411.6h3.8M957.3 411.6h3.8M968.4 411.6h3.8M972.1 411.6h3.8M1038.7 411.6h3.8M1053.5 411.6h3.8M842.6 415.2h3.8M846.3 415.2h3.8M853.7 415.2h3.8M864.8 415.2h3.8M868.5 415.2h3.8M872.2 415.2h3.8M875.9 415.2h3.8M879.6 415.2h3.8M883.3 415.2h3.8M887.0 415.2h3.8M890.7 415.2h3.8M894.4 415.2h3.8M898.1 415.2h3.8M901.8 415.2h3.8M905.5 415.2h3.8M909.2 415.2h3.8M912.9 415.2h3.8M916.6 415.2h3.8M924.0 415.2h3.8M927.7 415.2h3.8M931.4 415.2h3.8M938.8 415.2h3.8M957.3 415.2h3.8M961.0 415.2h3.8M964.7 415.2h3.8M972.1 415.2h3.8M1049.8 415.2h3.8M827.8 418.8h3.8M831.5 418.8h3.8M835.2 418.8h3.8M846.3 418.8h3.8M857.4 418.8h3.8M861.1 418.8h3.8M864.8 418.8h3.8M868.5 418.8h3.8M872.2 418.8h3.8M875.9 418.8h3.8M879.6 418.8h3.8M883.3 418.8h3.8M887.0 418.8h3.8M890.7 418.8h3.8M894.4 418.8h3.8M898.1 418.8h3.8M901.8 418.8h3.8M905.5 418.8h3.8M909.2 418.8h3.8M912.9 418.8h3.8M916.6 418.8h3.8M920.3 418.8h3.8M924.0 418.8h3.8M931.4 418.8h3.8M935.1 418.8h3.8M949.9 418.8h3.8M953.6 418.8h3.8M964.7 418.8h3.8M979.5 418.8h3.8M998.0 418.8h3.8M1016.5 418.8h3.8M1027.6 418.8h3.8M1038.7 418.8h3.8M824.1 422.4h3.8M846.3 422.4h3.8M850.0 422.4h3.8M857.4 422.4h3.8M861.1 422.4h3.8M864.8 422.4h3.8M868.5 422.4h3.8M872.2 422.4h3.8M875.9 422.4h3.8M879.6 422.4h3.8M883.3 422.4h3.8M887.0 422.4h3.8M890.7 422.4h3.8M894.4 422.4h3.8M898.1 422.4h3.8M901.8 422.4h3.8M905.5 422.4h3.8M909.2 422.4h3.8M912.9 422.4h3.8M916.6 422.4h3.8M920.3 422.4h3.8M938.8 422.4h3.8M949.9 422.4h3.8M961.0 422.4h3.8M990.6 422.4h3.8M1012.8 422.4h3.8M842.6 426.0h3.8M846.3 426.0h3.8M850.0 426.0h3.8M853.7 426.0h3.8M857.4 426.0h3.8M864.8 426.0h3.8M868.5 426.0h3.8M872.2 426.0h3.8M875.9 426.0h3.8M883.3 426.0h3.8M887.0 426.0h3.8M890.7 426.0h3.8M894.4 426.0h3.8M898.1 426.0h3.8M901.8 426.0h3.8M905.5 426.0h3.8M909.2 426.0h3.8M912.9 426.0h3.8M916.6 426.0h3.8M920.3 426.0h3.8M924.0 426.0h3.8M927.7 426.0h3.8M931.4 426.0h3.8M935.1 426.0h3.8M938.8 426.0h3.8M942.5 426.0h3.8M961.0 426.0h3.8M1023.9 426.0h3.8M835.2 429.6h3.8M842.6 429.6h3.8M846.3 429.6h3.8M853.7 429.6h3.8M857.4 429.6h3.8M861.1 429.6h3.8M864.8 429.6h3.8M868.5 429.6h3.8M872.2 429.6h3.8M875.9 429.6h3.8M879.6 429.6h3.8M883.3 429.6h3.8M887.0 429.6h3.8M890.7 429.6h3.8M894.4 429.6h3.8M898.1 429.6h3.8M901.8 429.6h3.8M905.5 429.6h3.8M909.2 429.6h3.8M912.9 429.6h3.8M916.6 429.6h3.8M920.3 429.6h3.8M927.7 429.6h3.8M935.1 429.6h3.8M957.3 429.6h3.8M961.0 429.6h3.8M827.8 433.2h3.8M835.2 433.2h3.8M846.3 433.2h3.8M850.0 433.2h3.8M853.7 433.2h3.8M857.4 433.2h3.8M861.1 433.2h3.8M864.8 433.2h3.8M868.5 433.2h3.8M872.2 433.2h3.8M875.9 433.2h3.8M879.6 433.2h3.8M883.3 433.2h3.8M887.0 433.2h3.8M890.7 433.2h3.8M894.4 433.2h3.8M898.1 433.2h3.8M901.8 433.2h3.8M905.5 433.2h3.8M909.2 433.2h3.8M912.9 433.2h3.8M916.6 433.2h3.8M920.3 433.2h3.8M924.0 433.2h3.8M935.1 433.2h3.8M938.8 433.2h3.8M942.5 433.2h3.8M979.5 433.2h3.8M983.2 433.2h3.8M990.6 433.2h3.8M1023.9 433.2h3.8M831.5 436.8h3.8M846.3 436.8h3.8M853.7 436.8h3.8M857.4 436.8h3.8M861.1 436.8h3.8M864.8 436.8h3.8M868.5 436.8h3.8M872.2 436.8h3.8M875.9 436.8h3.8M879.6 436.8h3.8M883.3 436.8h3.8M887.0 436.8h3.8M890.7 436.8h3.8M894.4 436.8h3.8M898.1 436.8h3.8M901.8 436.8h3.8M905.5 436.8h3.8M912.9 436.8h3.8M916.6 436.8h3.8M920.3 436.8h3.8M935.1 436.8h3.8M949.9 436.8h3.8M983.2 436.8h3.8M842.6 440.4h3.8M850.0 440.4h3.8M853.7 440.4h3.8M857.4 440.4h3.8M861.1 440.4h3.8M864.8 440.4h3.8M872.2 440.4h3.8M875.9 440.4h3.8M879.6 440.4h3.8M883.3 440.4h3.8M887.0 440.4h3.8M890.7 440.4h3.8M894.4 440.4h3.8M898.1 440.4h3.8M901.8 440.4h3.8M905.5 440.4h3.8M909.2 440.4h3.8M912.9 440.4h3.8M916.6 440.4h3.8M920.3 440.4h3.8M924.0 440.4h3.8M942.5 440.4h3.8M949.9 440.4h3.8M953.6 440.4h3.8M957.3 440.4h3.8M961.0 440.4h3.8M1001.7 440.4h3.8M1046.1 440.4h3.8M1053.5 440.4h3.8M1068.3 440.4h3.8M835.2 444.0h3.8M838.9 444.0h3.8M850.0 444.0h3.8M853.7 444.0h3.8M857.4 444.0h3.8M861.1 444.0h3.8M864.8 444.0h3.8M868.5 444.0h3.8M872.2 444.0h3.8M875.9 444.0h3.8M879.6 444.0h3.8M883.3 444.0h3.8M887.0 444.0h3.8M890.7 444.0h3.8M894.4 444.0h3.8M898.1 444.0h3.8M901.8 444.0h3.8M905.5 444.0h3.8M909.2 444.0h3.8M912.9 444.0h3.8M916.6 444.0h3.8M920.3 444.0h3.8M924.0 444.0h3.8M931.4 444.0h3.8M942.5 444.0h3.8M946.2 444.0h3.8M961.0 444.0h3.8M968.4 444.0h3.8M994.3 444.0h3.8M827.8 447.6h3.8M831.5 447.6h3.8M835.2 447.6h3.8M846.3 447.6h3.8M850.0 447.6h3.8M853.7 447.6h3.8M857.4 447.6h3.8M861.1 447.6h3.8M864.8 447.6h3.8M868.5 447.6h3.8M872.2 447.6h3.8M875.9 447.6h3.8M879.6 447.6h3.8M883.3 447.6h3.8M890.7 447.6h3.8M894.4 447.6h3.8M898.1 447.6h3.8M901.8 447.6h3.8M905.5 447.6h3.8M912.9 447.6h3.8M916.6 447.6h3.8M920.3 447.6h3.8M931.4 447.6h3.8M946.2 447.6h3.8M953.6 447.6h3.8M961.0 447.6h3.8M1027.6 447.6h3.8M1031.3 447.6h3.8M1064.6 447.6h3.8M842.6 451.2h3.8M846.3 451.2h3.8M850.0 451.2h3.8M853.7 451.2h3.8M857.4 451.2h3.8M861.1 451.2h3.8M864.8 451.2h3.8M868.5 451.2h3.8M872.2 451.2h3.8M875.9 451.2h3.8M879.6 451.2h3.8M883.3 451.2h3.8M887.0 451.2h3.8M890.7 451.2h3.8M894.4 451.2h3.8M898.1 451.2h3.8M901.8 451.2h3.8M905.5 451.2h3.8M909.2 451.2h3.8M912.9 451.2h3.8M916.6 451.2h3.8M920.3 451.2h3.8M924.0 451.2h3.8M931.4 451.2h3.8M935.1 451.2h3.8M942.5 451.2h3.8M946.2 451.2h3.8M953.6 451.2h3.8M957.3 451.2h3.8M972.1 451.2h3.8M983.2 451.2h3.8M1064.6 451.2h3.8M824.1 454.8h3.8M838.9 454.8h3.8M842.6 454.8h3.8M861.1 454.8h3.8M864.8 454.8h3.8M872.2 454.8h3.8M875.9 454.8h3.8M879.6 454.8h3.8M883.3 454.8h3.8M890.7 454.8h3.8M894.4 454.8h3.8M898.1 454.8h3.8M901.8 454.8h3.8M905.5 454.8h3.8M909.2 454.8h3.8M916.6 454.8h3.8M920.3 454.8h3.8M935.1 454.8h3.8M949.9 454.8h3.8M953.6 454.8h3.8M968.4 454.8h3.8M1042.4 454.8h3.8M1057.2 454.8h3.8M1060.9 454.8h3.8M838.9 458.4h3.8M846.3 458.4h3.8M853.7 458.4h3.8M857.4 458.4h3.8M861.1 458.4h3.8M864.8 458.4h3.8M868.5 458.4h3.8M872.2 458.4h3.8M875.9 458.4h3.8M879.6 458.4h3.8M883.3 458.4h3.8M887.0 458.4h3.8M894.4 458.4h3.8M898.1 458.4h3.8M905.5 458.4h3.8M909.2 458.4h3.8M916.6 458.4h3.8M924.0 458.4h3.8M931.4 458.4h3.8M990.6 458.4h3.8M1046.1 458.4h3.8M831.5 462.0h3.8M835.2 462.0h3.8M838.9 462.0h3.8M842.6 462.0h3.8M846.3 462.0h3.8M850.0 462.0h3.8M853.7 462.0h3.8M857.4 462.0h3.8M861.1 462.0h3.8M864.8 462.0h3.8M872.2 462.0h3.8M875.9 462.0h3.8M879.6 462.0h3.8M883.3 462.0h3.8M887.0 462.0h3.8M890.7 462.0h3.8M894.4 462.0h3.8M898.1 462.0h3.8M901.8 462.0h3.8M912.9 462.0h3.8M920.3 462.0h3.8M924.0 462.0h3.8M953.6 462.0h3.8M964.7 462.0h3.8M983.2 462.0h3.8M1027.6 462.0h3.8M842.6 465.6h3.8M846.3 465.6h3.8M850.0 465.6h3.8M864.8 465.6h3.8M872.2 465.6h3.8M875.9 465.6h3.8M883.3 465.6h3.8M887.0 465.6h3.8M894.4 465.6h3.8M901.8 465.6h3.8M905.5 465.6h3.8M909.2 465.6h3.8M1005.4 465.6h3.8M1009.1 465.6h3.8M1023.9 465.6h3.8M1027.6 465.6h3.8M1053.5 465.6h3.8M824.1 469.2h3.8M831.5 469.2h3.8M835.2 469.2h3.8M842.6 469.2h3.8M853.7 469.2h3.8M864.8 469.2h3.8M868.5 469.2h3.8M875.9 469.2h3.8M879.6 469.2h3.8M887.0 469.2h3.8M890.7 469.2h3.8M894.4 469.2h3.8M909.2 469.2h3.8M920.3 469.2h3.8M924.0 469.2h3.8M935.1 469.2h3.8M938.8 469.2h3.8M949.9 469.2h3.8M1001.7 469.2h3.8M1038.7 469.2h3.8M1068.3 469.2h3.8M831.5 472.8h3.8M861.1 472.8h3.8M864.8 472.8h3.8M872.2 472.8h3.8M883.3 472.8h3.8M887.0 472.8h3.8M890.7 472.8h3.8M898.1 472.8h3.8M905.5 472.8h3.8M912.9 472.8h3.8M931.4 472.8h3.8M972.1 472.8h3.8M994.3 472.8h3.8M1038.7 472.8h3.8M827.8 476.4h3.8M831.5 476.4h3.8M835.2 476.4h3.8M846.3 476.4h3.8M868.5 476.4h3.8M875.9 476.4h3.8M879.6 476.4h3.8M883.3 476.4h3.8M890.7 476.4h3.8M905.5 476.4h3.8M916.6 476.4h3.8M927.7 476.4h3.8M949.9 476.4h3.8M1027.6 476.4h3.8M831.5 480.0h3.8M846.3 480.0h3.8M850.0 480.0h3.8M864.8 480.0h3.8M879.6 480.0h3.8M883.3 480.0h3.8M887.0 480.0h3.8M890.7 480.0h3.8M894.4 480.0h3.8M898.1 480.0h3.8M912.9 480.0h3.8M920.3 480.0h3.8M927.7 480.0h3.8M961.0 480.0h3.8M824.1 483.6h3.8M827.8 483.6h3.8M842.6 483.6h3.8M853.7 483.6h3.8M875.9 483.6h3.8M879.6 483.6h3.8M883.3 483.6h3.8M887.0 483.6h3.8M890.7 483.6h3.8M901.8 483.6h3.8M905.5 483.6h3.8M909.2 483.6h3.8M957.3 483.6h3.8M1046.1 483.6h3.8M838.9 487.2h3.8M850.0 487.2h3.8M857.4 487.2h3.8M875.9 487.2h3.8M883.3 487.2h3.8M887.0 487.2h3.8M898.1 487.2h3.8M901.8 487.2h3.8M905.5 487.2h3.8M912.9 487.2h3.8M916.6 487.2h3.8M920.3 487.2h3.8M931.4 487.2h3.8M953.6 487.2h3.8M846.3 490.8h3.8M853.7 490.8h3.8M875.9 490.8h3.8M887.0 490.8h3.8M894.4 490.8h3.8M920.3 490.8h3.8M983.2 490.8h3.8M835.2 494.4h3.8M853.7 494.4h3.8M857.4 494.4h3.8M879.6 494.4h3.8M894.4 494.4h3.8M912.9 494.4h3.8M916.6 494.4h3.8M942.5 494.4h3.8M853.7 498.0h3.8M861.1 498.0h3.8M864.8 498.0h3.8M890.7 498.0h3.8M894.4 498.0h3.8M909.2 498.0h3.8M927.7 498.0h3.8M946.2 498.0h3.8M842.6 501.6h3.8M853.7 501.6h3.8M879.6 501.6h3.8M894.4 501.6h3.8M898.1 501.6h3.8M909.2 501.6h3.8M920.3 501.6h3.8M824.1 505.2h3.8M842.6 505.2h3.8M846.3 505.2h3.8M857.4 505.2h3.8M868.5 505.2h3.8M883.3 505.2h3.8M887.0 505.2h3.8M890.7 505.2h3.8M894.4 505.2h3.8M898.1 505.2h3.8M901.8 505.2h3.8M905.5 505.2h3.8M909.2 505.2h3.8M861.1 508.8h3.8M868.5 508.8h3.8M872.2 508.8h3.8M916.6 508.8h3.8M949.9 508.8h3.8M861.1 512.4h3.8M894.4 512.4h3.8M898.1 512.4h3.8M905.5 516.0h3.8M916.6 516.0h3.8M924.0 516.0h3.8M827.8 519.6h3.8M887.0 519.6h3.8M890.7 519.6h3.8M894.4 519.6h3.8M898.1 519.6h3.8M901.8 519.6h3.8M920.3 519.6h3.8M838.9 523.2h3.8M887.0 523.2h3.8M890.7 523.2h3.8M898.1 523.2h3.8M912.9 523.2h3.8M909.2 526.8h3.8M872.2 530.4h3.8M883.3 530.4h3.8M887.0 530.4h3.8M894.4 530.4h3.8M898.1 530.4h3.8M912.9 530.4h3.8M894.4 534.0h3.8M901.8 534.0h3.8M935.1 534.0h3.8M850.0 537.6h3.8M872.2 537.6h3.8M887.0 537.6h3.8M894.4 537.6h3.8M901.8 537.6h3.8M864.8 541.2h3.8M879.6 541.2h3.8M890.7 541.2h3.8M901.8 541.2h3.8M872.2 544.8h3.8M883.3 544.8h3.8M887.0 544.8h3.8M890.7 544.8h3.8M901.8 548.4h3.8M898.1 552.0h3.8M916.6 552.0h3.8M946.2 552.0h3.8M905.5 555.6h3.8M864.8 559.2h3.8M883.3 562.8h3.8M909.2 566.4h3.8M935.1 566.4h3.8M879.6 573.6h3.8M890.7 573.6h3.8M898.1 580.8h3.8M905.5 580.8h3.8M826.1 594.0h3.8M829.8 594.0h3.8M833.5 594.0h3.8M837.2 594.0h3.8M840.9 594.0h3.8M848.3 594.0h3.8M852.0 594.0h3.8M855.7 594.0h3.8M859.4 594.0h3.8M863.1 594.0h3.8M866.8 594.0h3.8M870.5 594.0h3.8M874.2 594.0h3.8M877.9 594.0h3.8M881.6 594.0h3.8M885.3 594.0h3.8M889.0 594.0h3.8M892.7 594.0h3.8M896.4 594.0h3.8M911.2 594.0h3.8M1018.1 594.0h3.8M1061.1 594.0h3.8M824.6 383.0h3.8M824.6 386.6h3.8M824.6 393.8h3.8M824.6 397.4h3.8M824.6 401.0h3.8M824.6 408.2h3.8M824.6 411.8h3.8M824.6 415.4h3.8M824.6 419.0h3.8M824.6 422.6h3.8M824.6 426.2h3.8M824.6 433.4h3.8M824.6 437.0h3.8M824.6 440.6h3.8M824.6 444.2h3.8M824.6 447.8h3.8M824.6 451.4h3.8M824.6 455.0h3.8M824.6 458.6h3.8M824.6 462.2h3.8M824.6 465.8h3.8M824.6 469.4h3.8M824.6 473.0h3.8M824.6 480.2h3.8M824.6 483.8h3.8M824.6 487.4h3.8M824.6 491.0h3.8M824.6 494.6h3.8M824.6 498.2h3.8M824.6 501.8h3.8M824.6 505.4h3.8M824.6 509.0h3.8M824.6 512.6h3.8M824.6 516.2h3.8M824.6 519.8h3.8M824.6 527.0h3.8M824.6 530.6h3.8M824.6 534.2h3.8M824.6 537.8h3.8M824.6 545.0h3.8M824.6 548.6h3.8M824.6 552.2h3.8M824.6 555.8h3.8M824.6 559.4h3.8M824.6 563.0h3.8M824.6 566.6h3.8M824.6 577.4h3.8M824.6 581.0h3.8" stroke="#ff0000" stroke-width="3.7"/>
<path d="M227.4 1048.0h3.8M186.7 1073.2h3.8M205.2 1073.2h3.8M271.8 1073.2h3.8M434.6 1073.2h3.8M179.3 1076.8h3.8M190.4 1076.8h3.8M208.9 1076.8h3.8M227.4 1076.8h3.8M245.9 1076.8h3.8M294.0 1076.8h3.8M467.9 1076.8h3.8M171.9 1080.4h3.8M201.5 1080.4h3.8M205.2 1080.4h3.8M212.6 1080.4h3.8M238.5 1080.4h3.8M512.3 1080.4h3.8M142.3 1084.0h3.8M149.7 1084.0h3.8M164.5 1084.0h3.8M186.7 1084.0h3.8M208.9 1084.0h3.8M249.6 1084.0h3.8M279.2 1084.0h3.8M501.2 1084.0h3.8M556.7 1084.0h3.8M601.1 1084.0h3.8M146.0 1087.6h3.8M231.1 1087.6h3.8M249.6 1087.6h3.8M319.9 1087.6h3.8M368.0 1087.6h3.8M408.7 1087.6h3.8M516.0 1087.6h3.8M523.4 1087.6h3.8M541.9 1087.6h3.8M553.0 1087.6h3.8M560.4 1087.6h3.8M153.4 1091.2h3.8M164.5 1091.2h3.8M171.9 1091.2h3.8M183.0 1091.2h3.8M190.4 1091.2h3.8M194.1 1091.2h3.8M220.0 1091.2h3.8M231.1 1091.2h3.8M234.8 1091.2h3.8M242.2 1091.2h3.8M260.7 1091.2h3.8M290.3 1091.2h3.8M508.6 1091.2h3.8M512.3 1091.2h3.8M527.1 1091.2h3.8M534.5 1091.2h3.8M146.0 1094.8h3.8M153.4 1094.8h3.8M175.6 1094.8h3.8M183.0 1094.8h3.8M190.4 1094.8h3.8M205.2 1094.8h3.8M212.6 1094.8h3.8M216.3 1094.8h3.8M220.0 1094.8h3.8M227.4 1094.8h3.8M231.1 1094.8h3.8M245.9 1094.8h3.8M257.0 1094.8h3.8M260.7 1094.8h3.8M338.4 1094.8h3.8M364.3 1094.8h3.8M490.1 1094.8h3.8M493.8 1094.8h3.8M512.3 1094.8h3.8M541.9 1094.8h3.8M549.3 1094.8h3.8M560.4 1094.8h3.8M567.8 1094.8h3.8M575.2 1094.8h3.8M593.7 1094.8h3.8M149.7 1098.4h3.8M171.9 1098.4h3.8M179.3 1098.4h3.8M186.7 1098.4h3.8M194.1 1098.4h3.8M201.5 1098.4h3.8M205.2 1098.4h3.8M208.9 1098.4h3.8M227.4 1098.4h3.8M245.9 1098.4h3.8M249.6 1098.4h3.8M260.7 1098.4h3.8M268.1 1098.4h3.8M275.5 1098.4h3.8M279.2 1098.4h3.8M338.4 1098.4h3.8M534.5 1098.4h3.8M538.2 1098.4h3.8M556.7 1098.4h3.8M131.2 1102.0h3.8M160.8 1102.0h3.8M168.2 1102.0h3.8M175.6 1102.0h3.8M183.0 1102.0h3.8M186.7 1102.0h3.8M190.4 1102.0h3.8M194.1 1102.0h3.8M197.8 1102.0h3.8M205.2 1102.0h3.8M208.9 1102.0h3.8M212.6 1102.0h3.8M216.3 1102.0h3.8M220.0 1102.0h3.8M223.7 1102.0h3.8M227.4 1102.0h3.8M231.1 1102.0h3.8M234.8 1102.0h3.8M238.5 1102.0h3.8M268.1 1102.0h3.8M282.9 1102.0h3.8M371.7 1102.0h3.8M445.7 1102.0h3.8M482.7 1102.0h3.8M493.8 1102.0h3.8M508.6 1102.0h3.8M519.7 1102.0h3.8M523.4 1102.0h3.8M527.1 1102.0h3.8M553.0 1102.0h3.8M556.7 1102.0h3.8M142.3 1105.6h3.8M149.7 1105.6h3.8M153.4 1105.6h3.8M157.1 1105.6h3.8M160.8 1105.6h3.8M171.9 1105.6h3.8M183.0 1105.6h3.8M186.7 1105.6h3.8M190.4 1105.6h3.8M194.1 1105.6h3.8M197.8 1105.6h3.8M205.2 1105.6h3.8M208.9 1105.6h3.8M212.6 1105.6h3.8M220.0 1105.6h3.8M223.7 1105.6h3.8M227.4 1105.6h3.8M234.8 1105.6h3.8M238.5 1105.6h3.8M260.7 1105.6h3.8M294.0 1105.6h3.8M319.9 1105.6h3.8M342.1 1105.6h3.8M356.9 1105.6h3.8M486.4 1105.6h3.8M501.2 1105.6h3.8M508.6 1105.6h3.8M512.3 1105.6h3.8M523.4 1105.6h3.8M534.5 1105.6h3.8M538.2 1105.6h3.8M545.6 1105.6h3.8M549.3 1105.6h3.8M553.0 1105.6h3.8M556.7 1105.6h3.8M567.8 1105.6h3.8M127.5 1109.2h3.8M131.2 1109.2h3.8M138.6 1109.2h3.8M146.0 1109.2h3.8M160.8 1109.2h3.8M164.5 1109.2h3.8M171.9 1109.2h3.8M175.6 1109.2h3.8M179.3 1109.2h3.8M186.7 1109.2h3.8M190.4 1109.2h3.8M194.1 1109.2h3.8M197.8 1109.2h3.8M201.5 1109.2h3.8M205.2 1109.2h3.8M208.9 1109.2h3.8M212.6 1109.2h3.8M216.3 1109.2h3.8M220.0 1109.2h3.8M223.7 1109.2h3.8M227.4 1109.2h3.8M238.5 1109.2h3.8M245.9 1109.2h3.8M253.3 1109.2h3.8M257.0 1109.2h3.8M264.4 1109.2h3.8M275.5 1109.2h3.8M286.6 1109.2h3.8M316.2 1109.2h3.8M319.9 1109.2h3.8M356.9 1109.2h3.8M501.2 1109.2h3.8M516.0 1109.2h3.8M519.7 1109.2h3.8M523.4 1109.2h3.8M534.5 1109.2h3.8M549.3 1109.2h3.8M146.0 1112.8h3.8M153.4 1112.8h3.8M157.1 1112.8h3.8M160.8 1112.8h3.8M164.5 1112.8h3.8M171.9 1112.8h3.8M175.6 1112.8h3.8M179.3 1112.8h3.8M183.0 1112.8h3.8M186.7 1112.8h3.8M190.4 1112.8h3.8M194.1 1112.8h3.8M197.8 1112.8h3.8M201.5 1112.8h3.8M205.2 1112.8h3.8M208.9 1112.8h3.8M212.6 1112.8h3.8M216.3 1112.8h3.8M220.0 1112.8h3.8M231.1 1112.8h3.8M234.8 1112.8h3.8M242.2 1112.8h3.8M249.6 1112.8h3.8M268.1 1112.8h3.8M279.2 1112.8h3.8M338.4 1112.8h3.8M345.8 1112.8h3.8M368.0 1112.8h3.8M390.2 1112.8h3.8M508.6 1112.8h3.8M523.4 1112.8h3.8M534.5 1112.8h3.8M538.2 1112.8h3.8M541.9 1112.8h3.8M553.0 1112.8h3.8M556.7 1112.8h3.8M567.8 1112.8h3.8M582.6 1112.8h3.8M134.9 1116.4h3.8M149.7 1116.4h3.8M153.4 1116.4h3.8M160.8 1116.4h3.8M164.5 1116.4h3.8M168.2 1116.4h3.8M171.9 1116.4h3.8M175.6 1116.4h3.8M179.3 1116.4h3.8M183.0 1116.4h3.8M186.7 1116.4h3.8M190.4 1116.4h3.8M194.1 1116.4h3.8M197.8 1116.4h3.8M201.5 1116.4h3.8M205.2 1116.4h3.8M212.6 1116.4h3.8M216.3 1116.4h3.8M220.0 1116.4h3.8M223.7 1116.4h3.8M227.4 1116.4h3.8M231.1 1116.4h3.8M234.8 1116.4h3.8M242.2 1116.4h3.8M245.9 1116.4h3.8M257.0 1116.4h3.8M260.7 1116.4h3.8M271.8 1116.4h3.8M282.9 1116.4h3.8M327.3 1116.4h3.8M331.0 1116.4h3.8M349.5 1116.4h3.8M360.6 1116.4h3.8M482.7 1116.4h3.8M519.7 1116.4h3.8M527.1 1116.4h3.8M530.8 1116.4h3.8M538.2 1116.4h3.8M541.9 1116.4h3.8M560.4 1116.4h3.8M567.8 1116.4h3.8M134.9 1120.0h3.8M142.3 1120.0h3.8M146.0 1120.0h3.8M160.8 1120.0h3.8M164.5 1120.0h3.8M168.2 1120.0h3.8M171.9 1120.0h3.8M175.6 1120.0h3.8M179.3 1120.0h3.8M183.0 1120.0h3.8M186.7 1120.0h3.8M190.4 1120.0h3.8M194.1 1120.0h3.8M197.8 1120.0h3.8M205.2 1120.0h3.8M208.9 1120.0h3.8M212.6 1120.0h3.8M216.3 1120.0h3.8M220.0 1120.0h3.8M223.7 1120.0h3.8M227.4 1120.0h3.8M231.1 1120.0h3.8M234.8 1120.0h3.8M242.2 1120.0h3.8M249.6 1120.0h3.8M271.8 1120.0h3.8M297.7 1120.0h3.8M479.0 1120.0h3.8M482.7 1120.0h3.8M490.1 1120.0h3.8M493.8 1120.0h3.8M501.2 1120.0h3.8M504.9 1120.0h3.8M508.6 1120.0h3.8M512.3 1120.0h3.8M516.0 1120.0h3.8M523.4 1120.0h3.8M527.1 1120.0h3.8M534.5 1120.0h3.8M541.9 1120.0h3.8M545.6 1120.0h3.8M553.0 1120.0h3.8M556.7 1120.0h3.8M567.8 1120.0h3.8M578.9 1120.0h3.8M597.4 1120.0h3.8M120.1 1123.6h3.8M131.2 1123.6h3.8M134.9 1123.6h3.8M138.6 1123.6h3.8M142.3 1123.6h3.8M146.0 1123.6h3.8M149.7 1123.6h3.8M153.4 1123.6h3.8M157.1 1123.6h3.8M160.8 1123.6h3.8M168.2 1123.6h3.8M171.9 1123.6h3.8M175.6 1123.6h3.8M183.0 1123.6h3.8M186.7 1123.6h3.8M190.4 1123.6h3.8M194.1 1123.6h3.8M197.8 1123.6h3.8M201.5 1123.6h3.8M205.2 1123.6h3.8M208.9 1123.6h3.8M212.6 1123.6h3.8M216.3 1123.6h3.8M220.0 1123.6h3.8M223.7 1123.6h3.8M227.4 1123.6h3.8M231.1 1123.6h3.8M234.8 1123.6h3.8M242.2 1123.6h3.8M253.3 1123.6h3.8M257.0 1123.6h3.8M260.7 1123.6h3.8M264.4 1123.6h3.8M275.5 1123.6h3.8M308.8 1123.6h3.8M312.5 1123.6h3.8M349.5 1123.6h3.8M364.3 1123.6h3.8M508.6 1123.6h3.8M516.0 1123.6h3.8M523.4 1123.6h3.8M527.1 1123.6h3.8M530.8 1123.6h3.8M534.5 1123.6h3.8M553.0 1123.6h3.8M556.7 1123.6h3.8M560.4 1123.6h3.8M120.1 1127.2h3.8M123.8 1127.2h3.8M131.2 1127.2h3.8M134.9 1127.2h3.8M138.6 1127.2h3.8M146.0 1127.2h3.8M153.4 1127.2h3.8M157.1 1127.2h3.8M160.8 1127.2h3.8M164.5 1127.2h3.8M168.2 1127.2h3.8M171.9 1127.2h3.8M175.6 1127.2h3.8M179.3 1127.2h3.8M183.0 1127.2h3.8M186.7 1127.2h3.8M190.4 1127.2h3.8M194.1 1127.2h3.8M197.8 1127.2h3.8M201.5 1127.2h3.8M205.2 1127.2h3.8M208.9 1127.2h3.8M212.6 1127.2h3.8M216.3 1127.2h3.8M220.0 1127.2h3.8M223.7 1127.2h3.8M227.4 1127.2h3.8M231.1 1127.2h3.8M238.5 1127.2h3.8M249.6 1127.2h3.8M253.3 1127.2h3.8M260.7 1127.2h3.8M264.4 1127.2h3.8M271.8 1127.2h3.8M275.5 1127.2h3.8M301.4 1127.2h3.8M312.5 1127.2h3.8M349.5 1127.2h3.8M412.4 1127.2h3.8M486.4 1127.2h3.8M490.1 1127.2h3.8M493.8 1127.2h3.8M497.5 1127.2h3.8M504.9 1127.2h3.8M508.6 1127.2h3.8M516.0 1127.2h3.8M534.5 1127.2h3.8M545.6 1127.2h3.8M549.3 1127.2h3.8M564.1 1127.2h3.8M567.8 1127.2h3.8M575.2 1127.2h3.8M131.2 1130.8h3.8M146.0 1130.8h3.8M149.7 1130.8h3.8M153.4 1130.8h3.8M157.1 1130.8h3.8M160.8 1130.8h3.8M164.5 1130.8h3.8M168.2 1130.8h3.8M171.9 1130.8h3.8M179.3 1130.8h3.8M183.0 1130.8h3.8M186.7 1130.8h3.8M190.4 1130.8h3.8M194.1 1130.8h3.8M197.8 1130.8h3.8M201.5 1130.8h3.8M205.2 1130.8h3.8M208.9 1130.8h3.8M212.6 1130.8h3.8M216.3 1130.8h3.8M220.0 1130.8h3.8M223.7 1130.8h3.8M227.4 1130.8h3.8M231.1 1130.8h3.8M234.8 1130.8h3.8M242.2 1130.8h3.8M245.9 1130.8h3.8M249.6 1130.8h3.8M264.4 1130.8h3.8M268.1 1130.8h3.8M271.8 1130.8h3.8M282.9 1130.8h3.8M308.8 1130.8h3.8M338.4 1130.8h3.8M345.8 1130.8h3.8M379.1 1130.8h3.8M401.3 1130.8h3.8M427.2 1130.8h3.8M467.9 1130.8h3.8M493.8 1130.8h3.8M501.2 1130.8h3.8M508.6 1130.8h3.8M512.3 1130.8h3.8M516.0 1130.8h3.8M519.7 1130.8h3.8M523.4 1130.8h3.8M527.1 1130.8h3.8M530.8 1130.8h3.8M538.2 1130.8h3.8M541.9 1130.8h3.8M545.6 1130.8h3.8M549.3 1130.8h3.8M571.5 1130.8h3.8M575.2 1130.8h3.8M138.6 1134.4h3.8M142.3 1134.4h3.8M146.0 1134.4h3.8M149.7 1134.4h3.8M160.8 1134.4h3.8M164.5 1134.4h3.8M168.2 1134.4h3.8M171.9 1134.4h3.8M175.6 1134.4h3.8M179.3 1134.4h3.8M183.0 1134.4h3.8M186.7 1134.4h3.8M190.4 1134.4h3.8M194.1 1134.4h3.8M197.8 1134.4h3.8M201.5 1134.4h3.8M205.2 1134.4h3.8M212.6 1134.4h3.8M216.3 1134.4h3.8M220.0 1134.4h3.8M223.7 1134.4h3.8M227.4 1134.4h3.8M231.1 1134.4h3.8M234.8 1134.4h3.8M242.2 1134.4h3.8M249.6 1134.4h3.8M253.3 1134.4h3.8M260.7 1134.4h3.8M279.2 1134.4h3.8M294.0 1134.4h3.8M305.1 1134.4h3.8M323.6 1134.4h3.8M327.3 1134.4h3.8M338.4 1134.4h3.8M345.8 1134.4h3.8M360.6 1134.4h3.8M382.8 1134.4h3.8M482.7 1134.4h3.8M493.8 1134.4h3.8M501.2 1134.4h3.8M512.3 1134.4h3.8M523.4 1134.4h3.8M527.1 1134.4h3.8M530.8 1134.4h3.8M534.5 1134.4h3.8M538.2 1134.4h3.8M541.9 1134.4h3.8M545.6 1134.4h3.8M549.3 1134.4h3.8M556.7 1134.4h3.8M586.3 1134.4h3.8M120.1 1138.0h3.8M123.8 1138.0h3.8M127.5 1138.0h3.8M146.0 1138.0h3.8M153.4 1138.0h3.8M157.1 1138.0h3.8M160.8 1138.0h3.8M168.2 1138.0h3.8M175.6 1138.0h3.8M179.3 1138.0h3.8M183.0 1138.0h3.8M186.7 1138.0h3.8M190.4 1138.0h3.8M194.1 1138.0h3.8M197.8 1138.0h3.8M201.5 1138.0h3.8M205.2 1138.0h3.8M208.9 1138.0h3.8M212.6 1138.0h3.8M216.3 1138.0h3.8M220.0 1138.0h3.8M223.7 1138.0h3.8M227.4 1138.0h3.8M231.1 1138.0h3.8M234.8 1138.0h3.8M238.5 1138.0h3.8M242.2 1138.0h3.8M253.3 1138.0h3.8M260.7 1138.0h3.8M275.5 1138.0h3.8M297.7 1138.0h3.8M316.2 1138.0h3.8M323.6 1138.0h3.8M331.0 1138.0h3.8M342.1 1138.0h3.8M349.5 1138.0h3.8M386.5 1138.0h3.8M482.7 1138.0h3.8M490.1 1138.0h3.8M493.8 1138.0h3.8M501.2 1138.0h3.8M504.9 1138.0h3.8M519.7 1138.0h3.8M527.1 1138.0h3.8M534.5 1138.0h3.8M541.9 1138.0h3.8M549.3 1138.0h3.8M553.0 1138.0h3.8M560.4 1138.0h3.8M571.5 1138.0h3.8M575.2 1138.0h3.8M123.8 1141.6h3.8M127.5 1141.6h3.8M138.6 1141.6h3.8M153.4 1141.6h3.8M157.1 1141.6h3.8M160.8 1141.6h3.8M164.5 1141.6h3.8M171.9 1141.6h3.8M175.6 1141.6h3.8M179.3 1141.6h3.8M183.0 1141.6h3.8M186.7 1141.6h3.8M190.4 1141.6h3.8M194.1 1141.6h3.8M197.8 1141.6h3.8M201.5 1141.6h3.8M205.2 1141.6h3.8M208.9 1141.6h3.8M212.6 1141.6h3.8M216.3 1141.6h3.8M220.0 1141.6h3.8M223.7 1141.6h3.8M227.4 1141.6h3.8M231.1 1141.6h3.8M234.8 1141.6h3.8M238.5 1141.6h3.8M242.2 1141.6h3.8M245.9 1141.6h3.8M249.6 1141.6h3.8M264.4 1141.6h3.8M279.2 1141.6h3.8M290.3 1141.6h3.8M316.2 1141.6h3.8M364.3 1141.6h3.8M368.0 1141.6h3.8M405.0 1141.6h3.8M453.1 1141.6h3.8M467.9 1141.6h3.8M471.6 1141.6h3.8M479.0 1141.6h3.8M486.4 1141.6h3.8M493.8 1141.6h3.8M501.2 1141.6h3.8M504.9 1141.6h3.8M508.6 1141.6h3.8M516.0 1141.6h3.8M523.4 1141.6h3.8M527.1 1141.6h3.8M530.8 1141.6h3.8M541.9 1141.6h3.8M545.6 1141.6h3.8M549.3 1141.6h3.8M560.4 1141.6h3.8M564.1 1141.6h3.8M567.8 1141.6h3.8M571.5 1141.6h3.8M131.2 1145.2h3.8M138.6 1145.2h3.8M146.0 1145.2h3.8M149.7 1145.2h3.8M157.1 1145.2h3.8M160.8 1145.2h3.8M164.5 1145.2h3.8M168.2 1145.2h3.8M171.9 1145.2h3.8M175.6 1145.2h3.8M179.3 1145.2h3.8M183.0 1145.2h3.8M186.7 1145.2h3.8M190.4 1145.2h3.8M194.1 1145.2h3.8M197.8 1145.2h3.8M201.5 1145.2h3.8M205.2 1145.2h3.8M208.9 1145.2h3.8M212.6 1145.2h3.8M216.3 1145.2h3.8M220.0 1145.2h3.8M223.7 1145.2h3.8M227.4 1145.2h3.8M231.1 1145.2h3.8M234.8 1145.2h3.8M238.5 1145.2h3.8M245.9 1145.2h3.8M249.6 1145.2h3.8M260.7 1145.2h3.8M268.1 1145.2h3.8M275.5 1145.2h3.8M301.4 1145.2h3.8M393.9 1145.2h3.8M479.0 1145.2h3.8M486.4 1145.2h3.8M497.5 1145.2h3.8M508.6 1145.2h3.8M523.4 1145.2h3.8M527.1 1145.2h3.8M538.2 1145.2h3.8M545.6 1145.2h3.8M549.3 1145.2h3.8M553.0 1145.2h3.8M556.7 1145.2h3.8M567.8 1145.2h3.8M571.5 1145.2h3.8M575.2 1145.2h3.8M578.9 1145.2h3.8M582.6 1145.2h3.8M586.3 1145.2h3.8M615.9 1145.2h3.8M127.5 1148.8h3.8M131.2 1148.8h3.8M134.9 1148.8h3.8M149.7 1148.8h3.8M153.4 1148.8h3.8M157.1 1148.8h3.8M160.8 1148.8h3.8M164.5 1148.8h3.8M168.2 1148.8h3.8M171.9 1148.8h3.8M175.6 1148.8h3.8M179.3 1148.8h3.8M183.0 1148.8h3.8M186.7 1148.8h3.8M190.4 1148.8h3.8M194.1 1148.8h3.8M197.8 1148.8h3.8M201.5 1148.8h3.8M205.2 1148.8h3.8M208.9 1148.8h3.8M212.6 1148.8h3.8M216.3 1148.8h3.8M220.0 1148.8h3.8M223.7 1148.8h3.8M227.4 1148.8h3.8M231.1 1148.8h3.8M238.5 1148.8h3.8M242.2 1148.8h3.8M245.9 1148.8h3.8M257.0 1148.8h3.8M268.1 1148.8h3.8M271.8 1148.8h3.8M275.5 1148.8h3.8M312.5 1148.8h3.8M345.8 1148.8h3.8M353.2 1148.8h3.8M371.7 1148.8h3.8M442.0 1148.8h3.8M467.9 1148.8h3.8M486.4 1148.8h3.8M493.8 1148.8h3.8M497.5 1148.8h3.8M501.2 1148.8h3.8M508.6 1148.8h3.8M519.7 1148.8h3.8M523.4 1148.8h3.8M527.1 1148.8h3.8M534.5 1148.8h3.8M541.9 1148.8h3.8M549.3 1148.8h3.8M560.4 1148.8h3.8M564.1 1148.8h3.8M578.9 1148.8h3.8M593.7 1148.8h3.8M608.5 1148.8h3.8M127.5 1152.4h3.8M138.6 1152.4h3.8M142.3 1152.4h3.8M146.0 1152.4h3.8M153.4 1152.4h3.8M157.1 1152.4h3.8M160.8 1152.4h3.8M164.5 1152.4h3.8M168.2 1152.4h3.8M171.9 1152.4h3.8M175.6 1152.4h3.8M179.3 1152.4h3.8M183.0 1152.4h3.8M186.7 1152.4h3.8M190.4 1152.4h3.8M194.1 1152.4h3.8M197.8 1152.4h3.8M201.5 1152.4h3.8M205.2 1152.4h3.8M208.9 1152.4h3.8M212.6 1152.4h3.8M216.3 1152.4h3.8M220.0 1152.4h3.8M223.7 1152.4h3.8M227.4 1152.4h3.8M231.1 1152.4h3.8M234.8 1152.4h3.8M238.5 1152.4h3.8M242.2 1152.4h3.8M245.9 1152.4h3.8M249.6 1152.4h3.8M257.0 1152.4h3.8M268.1 1152.4h3.8M297.7 1152.4h3.8M331.0 1152.4h3.8M349.5 1152.4h3.8M353.2 1152.4h3.8M375.4 1152.4h3.8M416.1 1152.4h3.8M479.0 1152.4h3.8M490.1 1152.4h3.8M497.5 1152.4h3.8M501.2 1152.4h3.8M504.9 1152.4h3.8M508.6 1152.4h3.8M516.0 1152.4h3.8M519.7 1152.4h3.8M523.4 1152.4h3.8M530.8 1152.4h3.8M534.5 1152.4h3.8M541.9 1152.4h3.8M545.6 1152.4h3.8M549.3 1152.4h3.8M553.0 1152.4h3.8M556.7 1152.4h3.8M564.1 1152.4h3.8M567.8 1152.4h3.8M571.5 1152.4h3.8M575.2 1152.4h3.8M142.3 1156.0h3.8M146.0 1156.0h3.8M149.7 1156.0h3.8M153.4 1156.0h3.8M157.1 1156.0h3.8M160.8 1156.0h3.8M164.5 1156.0h3.8M171.9 1156.0h3.8M175.6 1156.0h3.8M179.3 1156.0h3.8M183.0 1156.0h3.8M186.7 1156.0h3.8M190.4 1156.0h3.8M194.1 1156.0h3.8M197.8 1156.0h3.8M201.5 1156.0h3.8M205.2 1156.0h3.8M208.9 1156.0h3.8M212.6 1156.0h3.8M216.3 1156.0h3.8M220.0 1156.0h3.8M223.7 1156.0h3.8M227.4 1156.0h3.8M231.1 1156.0h3.8M234.8 1156.0h3.8M245.9 1156.0h3.8M253.3 1156.0h3.8M264.4 1156.0h3.8M271.8 1156.0h3.8M275.5 1156.0h3.8M282.9 1156.0h3.8M297.7 1156.0h3.8M327.3 1156.0h3.8M360.6 1156.0h3.8M371.7 1156.0h3.8M479.0 1156.0h3.8M493.8 1156.0h3.8M497.5 1156.0h3.8M501.2 1156.0h3.8M512.3 1156.0h3.8M516.0 1156.0h3.8M519.7 1156.0h3.8M527.1 1156.0h3.8M534.5 1156.0h3.8M538.2 1156.0h3.8M541.9 1156.0h3.8M553.0 1156.0h3.8M564.1 1156.0h3.8M567.8 1156.0h3.8M571.5 1156.0h3.8M582.6 1156.0h3.8M123.8 1159.6h3.8M134.9 1159.6h3.8M138.6 1159.6h3.8M149.7 1159.6h3.8M153.4 1159.6h3.8M160.8 1159.6h3.8M164.5 1159.6h3.8M168.2 1159.6h3.8M171.9 1159.6h3.8M175.6 1159.6h3.8M179.3 1159.6h3.8M183.0 1159.6h3.8M186.7 1159.6h3.8M190.4 1159.6h3.8M194.1 1159.6h3.8M197.8 1159.6h3.8M201.5 1159.6h3.8M205.2 1159.6h3.8M208.9 1159.6h3.8M212.6 1159.6h3.8M220.0 1159.6h3.8M223.7 1159.6h3.8M227.4 1159.6h3.8M231.1 1159.6h3.8M234.8 1159.6h3.8M238.5 1159.6h3.8M242.2 1159.6h3.8M245.9 1159.6h3.8M257.0 1159.6h3.8M260.7 1159.6h3.8M275.5 1159.6h3.8M301.4 1159.6h3.8M308.8 1159.6h3.8M342.1 1159.6h3.8M368.0 1159.6h3.8M438.3 1159.6h3.8M460.5 1159.6h3.8M501.2 1159.6h3.8M516.0 1159.6h3.8M519.7 1159.6h3.8M527.1 1159.6h3.8M530.8 1159.6h3.8M538.2 1159.6h3.8M541.9 1159.6h3.8M545.6 1159.6h3.8M556.7 1159.6h3.8M560.4 1159.6h3.8M567.8 1159.6h3.8M593.7 1159.6h3.8M127.5 1163.2h3.8M131.2 1163.2h3.8M134.9 1163.2h3.8M142.3 1163.2h3.8M146.0 1163.2h3.8M149.7 1163.2h3.8M153.4 1163.2h3.8M157.1 1163.2h3.8M160.8 1163.2h3.8M164.5 1163.2h3.8M168.2 1163.2h3.8M171.9 1163.2h3.8M175.6 1163.2h3.8M179.3 1163.2h3.8M183.0 1163.2h3.8M186.7 1163.2h3.8M190.4 1163.2h3.8M194.1 1163.2h3.8M197.8 1163.2h3.8M201.5 1163.2h3.8M205.2 1163.2h3.8M208.9 1163.2h3.8M216.3 1163.2h3.8M223.7 1163.2h3.8M227.4 1163.2h3.8M234.8 1163.2h3.8M238.5 1163.2h3.8M245.9 1163.2h3.8M253.3 1163.2h3.8M279.2 1163.2h3.8M345.8 1163.2h3.8M368.0 1163.2h3.8M405.0 1163.2h3.8M434.6 1163.2h3.8M464.2 1163.2h3.8M482.7 1163.2h3.8M504.9 1163.2h3.8M508.6 1163.2h3.8M512.3 1163.2h3.8M519.7 1163.2h3.8M523.4 1163.2h3.8M530.8 1163.2h3.8M541.9 1163.2h3.8M553.0 1163.2h3.8M146.0 1166.8h3.8M149.7 1166.8h3.8M160.8 1166.8h3.8M164.5 1166.8h3.8M171.9 1166.8h3.8M175.6 1166.8h3.8M179.3 1166.8h3.8M183.0 1166.8h3.8M186.7 1166.8h3.8M194.1 1166.8h3.8M197.8 1166.8h3.8M201.5 1166.8h3.8M205.2 1166.8h3.8M208.9 1166.8h3.8M212.6 1166.8h3.8M220.0 1166.8h3.8M223.7 1166.8h3.8M227.4 1166.8h3.8M231.1 1166.8h3.8M245.9 1166.8h3.8M253.3 1166.8h3.8M264.4 1166.8h3.8M275.5 1166.8h3.8M316.2 1166.8h3.8M345.8 1166.8h3.8M356.9 1166.8h3.8M371.7 1166.8h3.8M375.4 1166.8h3.8M390.2 1166.8h3.8M393.9 1166.8h3.8M471.6 1166.8h3.8M482.7 1166.8h3.8M490.1 1166.8h3.8M508.6 1166.8h3.8M512.3 1166.8h3.8M516.0 1166.8h3.8M523.4 1166.8h3.8M527.1 1166.8h3.8M530.8 1166.8h3.8M534.5 1166.8h3.8M541.9 1166.8h3.8M556.7 1166.8h3.8M560.4 1166.8h3.8M564.1 1166.8h3.8M571.5 1166.8h3.8M590.0 1166.8h3.8M131.2 1170.4h3.8M142.3 1170.4h3.8M146.0 1170.4h3.8M149.7 1170.4h3.8M157.1 1170.4h3.8M160.8 1170.4h3.8M164.5 1170.4h3.8M168.2 1170.4h3.8M175.6 1170.4h3.8M179.3 1170.4h3.8M183.0 1170.4h3.8M186.7 1170.4h3.8M190.4 1170.4h3.8M194.1 1170.4h3.8M197.8 1170.4h3.8M201.5 1170.4h3.8M205.2 1170.4h3.8M208.9 1170.4h3.8M216.3 1170.4h3.8M220.0 1170.4h3.8M227.4 1170.4h3.8M245.9 1170.4h3.8M257.0 1170.4h3.8M271.8 1170.4h3.8M290.3 1170.4h3.8M294.0 1170.4h3.8M305.1 1170.4h3.8M356.9 1170.4h3.8M427.2 1170.4h3.8M486.4 1170.4h3.8M493.8 1170.4h3.8M497.5 1170.4h3.8M504.9 1170.4h3.8M508.6 1170.4h3.8M519.7 1170.4h3.8M527.1 1170.4h3.8M545.6 1170.4h3.8M556.7 1170.4h3.8M567.8 1170.4h3.8M586.3 1170.4h3.8M127.5 1174.0h3.8M157.1 1174.0h3.8M164.5 1174.0h3.8M168.2 1174.0h3.8M171.9 1174.0h3.8M183.0 1174.0h3.8M186.7 1174.0h3.8M190.4 1174.0h3.8M194.1 1174.0h3.8M201.5 1174.0h3.8M205.2 1174.0h3.8M208.9 1174.0h3.8M220.0 1174.0h3.8M223.7 1174.0h3.8M227.4 1174.0h3.8M234.8 1174.0h3.8M249.6 1174.0h3.8M253.3 1174.0h3.8M257.0 1174.0h3.8M331.0 1174.0h3.8M338.4 1174.0h3.8M356.9 1174.0h3.8M371.7 1174.0h3.8M423.5 1174.0h3.8M427.2 1174.0h3.8M471.6 1174.0h3.8M504.9 1174.0h3.8M508.6 1174.0h3.8M512.3 1174.0h3.8M516.0 1174.0h3.8M530.8 1174.0h3.8M541.9 1174.0h3.8M545.6 1174.0h3.8M560.4 1174.0h3.8M564.1 1174.0h3.8M153.4 1177.6h3.8M157.1 1177.6h3.8M168.2 1177.6h3.8M179.3 1177.6h3.8M186.7 1177.6h3.8M190.4 1177.6h3.8M197.8 1177.6h3.8M201.5 1177.6h3.8M212.6 1177.6h3.8M216.3 1177.6h3.8M223.7 1177.6h3.8M231.1 1177.6h3.8M242.2 1177.6h3.8M249.6 1177.6h3.8M279.2 1177.6h3.8M282.9 1177.6h3.8M301.4 1177.6h3.8M305.1 1177.6h3.8M490.1 1177.6h3.8M493.8 1177.6h3.8M497.5 1177.6h3.8M508.6 1177.6h3.8M512.3 1177.6h3.8M527.1 1177.6h3.8M530.8 1177.6h3.8M545.6 1177.6h3.8M556.7 1177.6h3.8M564.1 1177.6h3.8M149.7 1181.2h3.8M157.1 1181.2h3.8M164.5 1181.2h3.8M168.2 1181.2h3.8M171.9 1181.2h3.8M175.6 1181.2h3.8M183.0 1181.2h3.8M186.7 1181.2h3.8M190.4 1181.2h3.8M194.1 1181.2h3.8M197.8 1181.2h3.8M205.2 1181.2h3.8M208.9 1181.2h3.8M220.0 1181.2h3.8M223.7 1181.2h3.8M238.5 1181.2h3.8M249.6 1181.2h3.8M353.2 1181.2h3.8M368.0 1181.2h3.8M497.5 1181.2h3.8M538.2 1181.2h3.8M545.6 1181.2h3.8M549.3 1181.2h3.8M553.0 1181.2h3.8M564.1 1181.2h3.8M586.3 1181.2h3.8M146.0 1184.8h3.8M153.4 1184.8h3.8M168.2 1184.8h3.8M171.9 1184.8h3.8M183.0 1184.8h3.8M190.4 1184.8h3.8M194.1 1184.8h3.8M197.8 1184.8h3.8M201.5 1184.8h3.8M205.2 1184.8h3.8M208.9 1184.8h3.8M216.3 1184.8h3.8M220.0 1184.8h3.8M238.5 1184.8h3.8M257.0 1184.8h3.8M260.7 1184.8h3.8M445.7 1184.8h3.8M493.8 1184.8h3.8M504.9 1184.8h3.8M512.3 1184.8h3.8M527.1 1184.8h3.8M530.8 1184.8h3.8M556.7 1184.8h3.8M120.1 1188.4h3.8M146.0 1188.4h3.8M153.4 1188.4h3.8M168.2 1188.4h3.8M171.9 1188.4h3.8M175.6 1188.4h3.8M183.0 1188.4h3.8M194.1 1188.4h3.8M201.5 1188.4h3.8M212.6 1188.4h3.8M216.3 1188.4h3.8M223.7 1188.4h3.8M234.8 1188.4h3.8M253.3 1188.4h3.8M264.4 1188.4h3.8M286.6 1188.4h3.8M319.9 1188.4h3.8M342.1 1188.4h3.8M353.2 1188.4h3.8M486.4 1188.4h3.8M501.2 1188.4h3.8M504.9 1188.4h3.8M519.7 1188.4h3.8M534.5 1188.4h3.8M549.3 1188.4h3.8M553.0 1188.4h3.8M564.1 1188.4h3.8M149.7 1192.0h3.8M164.5 1192.0h3.8M168.2 1192.0h3.8M171.9 1192.0h3.8M175.6 1192.0h3.8M179.3 1192.0h3.8M201.5 1192.0h3.8M205.2 1192.0h3.8M212.6 1192.0h3.8M223.7 1192.0h3.8M231.1 1192.0h3.8M234.8 1192.0h3.8M245.9 1192.0h3.8M490.1 1192.0h3.8M504.9 1192.0h3.8M519.7 1192.0h3.8M530.8 1192.0h3.8M538.2 1192.0h3.8M556.7 1192.0h3.8M157.1 1195.6h3.8M160.8 1195.6h3.8M171.9 1195.6h3.8M175.6 1195.6h3.8M179.3 1195.6h3.8M186.7 1195.6h3.8M194.1 1195.6h3.8M205.2 1195.6h3.8M271.8 1195.6h3.8M275.5 1195.6h3.8M282.9 1195.6h3.8M519.7 1195.6h3.8M527.1 1195.6h3.8M530.8 1195.6h3.8M560.4 1195.6h3.8M149.7 1199.2h3.8M175.6 1199.2h3.8M179.3 1199.2h3.8M186.7 1199.2h3.8M190.4 1199.2h3.8M194.1 1199.2h3.8M197.8 1199.2h3.8M201.5 1199.2h3.8M205.2 1199.2h3.8M208.9 1199.2h3.8M227.4 1199.2h3.8M153.4 1202.8h3.8M168.2 1202.8h3.8M171.9 1202.8h3.8M186.7 1202.8h3.8M190.4 1202.8h3.8M197.8 1202.8h3.8M205.2 1202.8h3.8M212.6 1202.8h3.8M223.7 1202.8h3.8M260.7 1202.8h3.8M308.8 1202.8h3.8M527.1 1202.8h3.8M120.1 1206.4h3.8M153.4 1206.4h3.8M164.5 1206.4h3.8M175.6 1206.4h3.8M197.8 1206.4h3.8M212.6 1206.4h3.8M231.1 1206.4h3.8M508.6 1206.4h3.8M512.3 1206.4h3.8M567.8 1206.4h3.8M164.5 1210.0h3.8M168.2 1210.0h3.8M175.6 1210.0h3.8M197.8 1210.0h3.8M208.9 1210.0h3.8M212.6 1210.0h3.8M227.4 1210.0h3.8M516.0 1210.0h3.8M527.1 1210.0h3.8M530.8 1210.0h3.8M549.3 1210.0h3.8M164.5 1213.6h3.8M175.6 1213.6h3.8M179.3 1213.6h3.8M205.2 1213.6h3.8M208.9 1213.6h3.8M212.6 1213.6h3.8M216.3 1213.6h3.8M220.0 1213.6h3.8M238.5 1213.6h3.8M482.7 1213.6h3.8M527.1 1213.6h3.8M541.9 1213.6h3.8M146.0 1217.2h3.8M171.9 1217.2h3.8M183.0 1217.2h3.8M190.4 1217.2h3.8M201.5 1217.2h3.8M231.1 1217.2h3.8M242.2 1217.2h3.8M249.6 1217.2h3.8M519.7 1217.2h3.8M553.0 1217.2h3.8M171.9 1220.8h3.8M183.0 1220.8h3.8M216.3 1220.8h3.8M223.7 1220.8h3.8M519.7 1220.8h3.8M138.6 1224.4h3.8M142.3 1224.4h3.8M164.5 1224.4h3.8M183.0 1224.4h3.8M186.7 1224.4h3.8M197.8 1224.4h3.8M201.5 1224.4h3.8M227.4 1224.4h3.8M512.3 1224.4h3.8M541.9 1224.4h3.8M556.7 1224.4h3.8M157.1 1228.0h3.8M160.8 1228.0h3.8M201.5 1228.0h3.8M208.9 1228.0h3.8M146.0 1231.6h3.8M168.2 1231.6h3.8M234.8 1231.6h3.8M530.8 1231.6h3.8M541.9 1231.6h3.8M549.3 1231.6h3.8M590.0 1231.6h3.8M157.1 1235.2h3.8M186.7 1235.2h3.8M201.5 1235.2h3.8M527.1 1235.2h3.8M168.2 1238.8h3.8M179.3 1238.8h3.8M186.7 1238.8h3.8M553.0 1238.8h3.8M560.4 1238.8h3.8M153.4 1242.4h3.8M220.0 1242.4h3.8M527.1 1242.4h3.8M549.3 1242.4h3.8M157.1 1246.0h3.8M205.2 1246.0h3.8M508.6 1246.0h3.8M538.2 1246.0h3.8M175.6 1249.6h3.8M186.7 1249.6h3.8M541.9 1249.6h3.8M564.1 1249.6h3.8M160.8 1253.2h3.8M194.1 1253.2h3.8M208.9 1253.2h3.8M575.2 1253.2h3.8M153.4 1256.8h3.8M160.8 1256.8h3.8M168.2 1256.8h3.8M179.3 1256.8h3.8M190.4 1256.8h3.8M194.1 1256.8h3.8M208.9 1256.8h3.8M519.7 1256.8h3.8M530.8 1256.8h3.8M164.5 1264.0h3.8M168.2 1264.0h3.8M227.4 1264.0h3.8M164.5 1267.6h3.8M175.6 1267.6h3.8M190.4 1267.6h3.8M194.1 1267.6h3.8M512.3 1267.6h3.8M168.2 1274.8h3.8M208.9 1274.8h3.8M179.3 1285.6h3.8M179.3 1289.2h3.8M227.4 1289.2h3.8M160.8 1292.8h3.8M183.0 1292.8h3.8M201.5 1292.8h3.8M220.0 1292.8h3.8M212.6 1296.4h3.8M194.1 1300.0h3.8M212.6 1303.6h3.8M122.1 1313.8h3.8M125.8 1313.8h3.8M129.5 1313.8h3.8M133.2 1313.8h3.8M140.6 1313.8h3.8M144.3 1313.8h3.8M148.0 1313.8h3.8M151.7 1313.8h3.8M155.4 1313.8h3.8M162.8 1313.8h3.8M166.5 1313.8h3.8M177.6 1313.8h3.8M196.1 1313.8h3.8M199.8 1313.8h3.8M207.2 1313.8h3.8M210.9 1313.8h3.8M218.3 1313.8h3.8M222.0 1313.8h3.8M229.4 1313.8h3.8M233.1 1313.8h3.8M495.5 1313.8h3.8M510.3 1313.8h3.8M525.1 1313.8h3.8M539.9 1313.8h3.8M543.6 1313.8h3.8M120.6 1085.0h3.8M120.6 1092.2h3.8M120.6 1095.8h3.8M120.6 1099.4h3.8M120.6 1103.0h3.8M120.6 1106.6h3.8M120.6 1110.2h3.8M120.6 1113.8h3.8M120.6 1124.6h3.8M120.6 1128.2h3.8M120.6 1135.4h3.8M120.6 1139.0h3.8M120.6 1142.6h3.8M120.6 1146.2h3.8M120.6 1149.8h3.8M120.6 1153.4h3.8M120.6 1157.0h3.8M120.6 1164.2h3.8M120.6 1167.8h3.8M120.6 1171.4h3.8M120.6 1178.6h3.8M120.6 1182.2h3.8M120.6 1185.8h3.8M120.6 1193.0h3.8M120.6 1196.6h3.8M120.6 1200.2h3.8M120.6 1203.8h3.8M120.6 1211.0h3.8M120.6 1214.6h3.8M120.6 1218.2h3.8M120.6 1221.8h3.8M120.6 1225.4h3.8M120.6 1232.6h3.8M120.6 1243.4h3.8M120.6 1247.0h3.8M120.6 1250.6h3.8M120.6 1254.2h3.8M120.6 1257.8h3.8M120.6 1261.4h3.8M120.6 1265.0h3.8M120.6 1268.6h3.8M120.6 1272.2h3.8M120.6 1275.8h3.8M120.6 1286.6h3.8M120.6 1290.2h3.8M120.6 1297.4h3.8" stroke="#ff0000" stroke-width="3.7"/>
<path d="M1117.1 1069.6h3.8M928.4 1073.2h3.8M1028.3 1073.2h3.8M1076.4 1073.2h3.8M1128.2 1073.2h3.8M1143.0 1073.2h3.8M1006.1 1076.8h3.8M1020.9 1076.8h3.8M1072.7 1076.8h3.8M1139.3 1076.8h3.8M1143.0 1076.8h3.8M1176.3 1076.8h3.8M983.9 1080.4h3.8M1028.3 1080.4h3.8M1057.9 1080.4h3.8M1065.3 1080.4h3.8M1080.1 1080.4h3.8M1102.3 1080.4h3.8M921.0 1084.0h3.8M998.7 1084.0h3.8M1032.0 1084.0h3.8M1039.4 1084.0h3.8M1043.1 1084.0h3.8M1046.8 1084.0h3.8M1050.5 1084.0h3.8M1057.9 1084.0h3.8M1065.3 1084.0h3.8M1072.7 1084.0h3.8M1076.4 1084.0h3.8M1106.0 1084.0h3.8M950.6 1087.6h3.8M965.4 1087.6h3.8M972.8 1087.6h3.8M1024.6 1087.6h3.8M1028.3 1087.6h3.8M1043.1 1087.6h3.8M1057.9 1087.6h3.8M1061.6 1087.6h3.8M1080.1 1087.6h3.8M1098.6 1087.6h3.8M1109.7 1087.6h3.8M1124.5 1087.6h3.8M1180.0 1087.6h3.8M1198.5 1087.6h3.8M1202.2 1087.6h3.8M1235.5 1087.6h3.8M1239.2 1087.6h3.8M887.7 1091.2h3.8M921.0 1091.2h3.8M965.4 1091.2h3.8M983.9 1091.2h3.8M1050.5 1091.2h3.8M1054.2 1091.2h3.8M1061.6 1091.2h3.8M1065.3 1091.2h3.8M1069.0 1091.2h3.8M1080.1 1091.2h3.8M1083.8 1091.2h3.8M1087.5 1091.2h3.8M1109.7 1091.2h3.8M1117.1 1091.2h3.8M1120.8 1091.2h3.8M1146.7 1091.2h3.8M1165.2 1091.2h3.8M1202.2 1091.2h3.8M1209.6 1091.2h3.8M865.5 1094.8h3.8M887.7 1094.8h3.8M906.2 1094.8h3.8M939.5 1094.8h3.8M954.3 1094.8h3.8M998.7 1094.8h3.8M1046.8 1094.8h3.8M1054.2 1094.8h3.8M1057.9 1094.8h3.8M1061.6 1094.8h3.8M1065.3 1094.8h3.8M1069.0 1094.8h3.8M1076.4 1094.8h3.8M1080.1 1094.8h3.8M1083.8 1094.8h3.8M1087.5 1094.8h3.8M1091.2 1094.8h3.8M1109.7 1094.8h3.8M1113.4 1094.8h3.8M1124.5 1094.8h3.8M1154.1 1094.8h3.8M1183.7 1094.8h3.8M876.6 1098.4h3.8M891.4 1098.4h3.8M898.8 1098.4h3.8M932.1 1098.4h3.8M995.0 1098.4h3.8M1020.9 1098.4h3.8M1039.4 1098.4h3.8M1061.6 1098.4h3.8M1065.3 1098.4h3.8M1069.0 1098.4h3.8M1076.4 1098.4h3.8M1083.8 1098.4h3.8M1091.2 1098.4h3.8M1098.6 1098.4h3.8M1102.3 1098.4h3.8M1109.7 1098.4h3.8M1131.9 1098.4h3.8M1139.3 1098.4h3.8M1146.7 1098.4h3.8M1157.8 1098.4h3.8M1168.9 1098.4h3.8M1180.0 1098.4h3.8M1194.8 1098.4h3.8M1231.8 1098.4h3.8M880.3 1102.0h3.8M935.8 1102.0h3.8M998.7 1102.0h3.8M1009.8 1102.0h3.8M1017.2 1102.0h3.8M1024.6 1102.0h3.8M1028.3 1102.0h3.8M1032.0 1102.0h3.8M1043.1 1102.0h3.8M1050.5 1102.0h3.8M1054.2 1102.0h3.8M1057.9 1102.0h3.8M1061.6 1102.0h3.8M1065.3 1102.0h3.8M1069.0 1102.0h3.8M1072.7 1102.0h3.8M1076.4 1102.0h3.8M1087.5 1102.0h3.8M1109.7 1102.0h3.8M1117.1 1102.0h3.8M1120.8 1102.0h3.8M1143.0 1102.0h3.8M1146.7 1102.0h3.8M1161.5 1102.0h3.8M1183.7 1102.0h3.8M1194.8 1102.0h3.8M1202.2 1102.0h3.8M1213.3 1102.0h3.8M865.5 1105.6h3.8M983.9 1105.6h3.8M998.7 1105.6h3.8M1009.8 1105.6h3.8M1013.5 1105.6h3.8M1020.9 1105.6h3.8M1028.3 1105.6h3.8M1032.0 1105.6h3.8M1035.7 1105.6h3.8M1046.8 1105.6h3.8M1050.5 1105.6h3.8M1054.2 1105.6h3.8M1057.9 1105.6h3.8M1065.3 1105.6h3.8M1069.0 1105.6h3.8M1072.7 1105.6h3.8M1076.4 1105.6h3.8M1083.8 1105.6h3.8M1087.5 1105.6h3.8M1091.2 1105.6h3.8M1106.0 1105.6h3.8M1128.2 1105.6h3.8M1135.6 1105.6h3.8M1146.7 1105.6h3.8M1150.4 1105.6h3.8M1176.3 1105.6h3.8M1187.4 1105.6h3.8M1213.3 1105.6h3.8M1220.7 1105.6h3.8M1231.8 1105.6h3.8M902.5 1109.2h3.8M958.0 1109.2h3.8M987.6 1109.2h3.8M1006.1 1109.2h3.8M1017.2 1109.2h3.8M1024.6 1109.2h3.8M1032.0 1109.2h3.8M1035.7 1109.2h3.8M1039.4 1109.2h3.8M1043.1 1109.2h3.8M1046.8 1109.2h3.8M1050.5 1109.2h3.8M1054.2 1109.2h3.8M1057.9 1109.2h3.8M1061.6 1109.2h3.8M1065.3 1109.2h3.8M1069.0 1109.2h3.8M1076.4 1109.2h3.8M1080.1 1109.2h3.8M1083.8 1109.2h3.8M1087.5 1109.2h3.8M1091.2 1109.2h3.8M1094.9 1109.2h3.8M1109.7 1109.2h3.8M1117.1 1109.2h3.8M1139.3 1109.2h3.8M1143.0 1109.2h3.8M1146.7 1109.2h3.8M1161.5 1109.2h3.8M1172.6 1109.2h3.8M1191.1 1109.2h3.8M1213.3 1109.2h3.8M1217.0 1109.2h3.8M861.8 1112.8h3.8M924.7 1112.8h3.8M939.5 1112.8h3.8M946.9 1112.8h3.8M954.3 1112.8h3.8M958.0 1112.8h3.8M980.2 1112.8h3.8M983.9 1112.8h3.8M987.6 1112.8h3.8M995.0 1112.8h3.8M1002.4 1112.8h3.8M1006.1 1112.8h3.8M1013.5 1112.8h3.8M1020.9 1112.8h3.8M1028.3 1112.8h3.8M1032.0 1112.8h3.8M1035.7 1112.8h3.8M1043.1 1112.8h3.8M1046.8 1112.8h3.8M1054.2 1112.8h3.8M1061.6 1112.8h3.8M1065.3 1112.8h3.8M1076.4 1112.8h3.8M1080.1 1112.8h3.8M1083.8 1112.8h3.8M1087.5 1112.8h3.8M1091.2 1112.8h3.8M1094.9 1112.8h3.8M1098.6 1112.8h3.8M1102.3 1112.8h3.8M1106.0 1112.8h3.8M1109.7 1112.8h3.8M1113.4 1112.8h3.8M1117.1 1112.8h3.8M1120.8 1112.8h3.8M1124.5 1112.8h3.8M1128.2 1112.8h3.8M1139.3 1112.8h3.8M1146.7 1112.8h3.8M1157.8 1112.8h3.8M1176.3 1112.8h3.8M1187.4 1112.8h3.8M1209.6 1112.8h3.8M1235.5 1112.8h3.8M884.0 1116.4h3.8M946.9 1116.4h3.8M972.8 1116.4h3.8M980.2 1116.4h3.8M998.7 1116.4h3.8M1006.1 1116.4h3.8M1009.8 1116.4h3.8M1013.5 1116.4h3.8M1020.9 1116.4h3.8M1024.6 1116.4h3.8M1028.3 1116.4h3.8M1032.0 1116.4h3.8M1035.7 1116.4h3.8M1039.4 1116.4h3.8M1043.1 1116.4h3.8M1046.8 1116.4h3.8M1050.5 1116.4h3.8M1054.2 1116.4h3.8M1057.9 1116.4h3.8M1061.6 1116.4h3.8M1065.3 1116.4h3.8M1069.0 1116.4h3.8M1072.7 1116.4h3.8M1076.4 1116.4h3.8M1080.1 1116.4h3.8M1083.8 1116.4h3.8M1087.5 1116.4h3.8M1091.2 1116.4h3.8M1094.9 1116.4h3.8M1098.6 1116.4h3.8M1102.3 1116.4h3.8M1117.1 1116.4h3.8M1120.8 1116.4h3.8M1128.2 1116.4h3.8M1135.6 1116.4h3.8M1150.4 1116.4h3.8M1183.7 1116.4h3.8M1194.8 1116.4h3.8M1198.5 1116.4h3.8M1209.6 1116.4h3.8M1228.1 1116.4h3.8M1242.9 1116.4h3.8M887.7 1120.0h3.8M898.8 1120.0h3.8M950.6 1120.0h3.8M972.8 1120.0h3.8M987.6 1120.0h3.8M998.7 1120.0h3.8M1002.4 1120.0h3.8M1006.1 1120.0h3.8M1013.5 1120.0h3.8M1017.2 1120.0h3.8M1020.9 1120.0h3.8M1024.6 1120.0h3.8M1028.3 1120.0h3.8M1032.0 1120.0h3.8M1035.7 1120.0h3.8M1043.1 1120.0h3.8M1046.8 1120.0h3.8M1050.5 1120.0h3.8M1054.2 1120.0h3.8M1057.9 1120.0h3.8M1061.6 1120.0h3.8M1065.3 1120.0h3.8M1069.0 1120.0h3.8M1072.7 1120.0h3.8M1076.4 1120.0h3.8M1080.1 1120.0h3.8M1083.8 1120.0h3.8M1087.5 1120.0h3.8M1091.2 1120.0h3.8M1094.9 1120.0h3.8M1098.6 1120.0h3.8M1102.3 1120.0h3.8M1109.7 1120.0h3.8M1113.4 1120.0h3.8M1117.1 1120.0h3.8M1131.9 1120.0h3.8M1161.5 1120.0h3.8M1168.9 1120.0h3.8M1172.6 1120.0h3.8M1176.3 1120.0h3.8M1180.0 1120.0h3.8M1183.7 1120.0h3.8M1187.4 1120.0h3.8M1191.1 1120.0h3.8M1198.5 1120.0h3.8M1205.9 1120.0h3.8M1231.8 1120.0h3.8M1239.2 1120.0h3.8M891.4 1123.6h3.8M924.7 1123.6h3.8M965.4 1123.6h3.8M969.1 1123.6h3.8M1006.1 1123.6h3.8M1017.2 1123.6h3.8M1020.9 1123.6h3.8M1024.6 1123.6h3.8M1028.3 1123.6h3.8M1032.0 1123.6h3.8M1035.7 1123.6h3.8M1039.4 1123.6h3.8M1043.1 1123.6h3.8M1046.8 1123.6h3.8M1050.5 1123.6h3.8M1054.2 1123.6h3.8M1057.9 1123.6h3.8M1061.6 1123.6h3.8M1065.3 1123.6h3.8M1069.0 1123.6h3.8M1072.7 1123.6h3.8M1076.4 1123.6h3.8M1080.1 1123.6h3.8M1083.8 1123.6h3.8M1087.5 1123.6h3.8M1091.2 1123.6h3.8M1094.9 1123.6h3.8M1098.6 1123.6h3.8M1113.4 1123.6h3.8M1157.8 1123.6h3.8M1165.2 1123.6h3.8M1168.9 1123.6h3.8M1172.6 1123.6h3.8M1183.7 1123.6h3.8M1187.4 1123.6h3.8M1191.1 1123.6h3.8M1198.5 1123.6h3.8M1213.3 1123.6h3.8M1220.7 1123.6h3.8M924.7 1127.2h3.8M935.8 1127.2h3.8M946.9 1127.2h3.8M954.3 1127.2h3.8M961.7 1127.2h3.8M965.4 1127.2h3.8M969.1 1127.2h3.8M972.8 1127.2h3.8M983.9 1127.2h3.8M991.3 1127.2h3.8M998.7 1127.2h3.8M1002.4 1127.2h3.8M1009.8 1127.2h3.8M1013.5 1127.2h3.8M1017.2 1127.2h3.8M1020.9 1127.2h3.8M1024.6 1127.2h3.8M1028.3 1127.2h3.8M1032.0 1127.2h3.8M1043.1 1127.2h3.8M1046.8 1127.2h3.8M1050.5 1127.2h3.8M1054.2 1127.2h3.8M1057.9 1127.2h3.8M1065.3 1127.2h3.8M1069.0 1127.2h3.8M1072.7 1127.2h3.8M1076.4 1127.2h3.8M1080.1 1127.2h3.8M1083.8 1127.2h3.8M1087.5 1127.2h3.8M1091.2 1127.2h3.8M1094.9 1127.2h3.8M1102.3 1127.2h3.8M1106.0 1127.2h3.8M1109.7 1127.2h3.8M1113.4 1127.2h3.8M1120.8 1127.2h3.8M1124.5 1127.2h3.8M1131.9 1127.2h3.8M1143.0 1127.2h3.8M1150.4 1127.2h3.8M1154.1 1127.2h3.8M1157.8 1127.2h3.8M1165.2 1127.2h3.8M1168.9 1127.2h3.8M1176.3 1127.2h3.8M1183.7 1127.2h3.8M1187.4 1127.2h3.8M1202.2 1127.2h3.8M1213.3 1127.2h3.8M1217.0 1127.2h3.8M1235.5 1127.2h3.8M1239.2 1127.2h3.8M932.1 1130.8h3.8M946.9 1130.8h3.8M950.6 1130.8h3.8M954.3 1130.8h3.8M961.7 1130.8h3.8M983.9 1130.8h3.8M987.6 1130.8h3.8M1002.4 1130.8h3.8M1006.1 1130.8h3.8M1013.5 1130.8h3.8M1020.9 1130.8h3.8M1024.6 1130.8h3.8M1028.3 1130.8h3.8M1032.0 1130.8h3.8M1035.7 1130.8h3.8M1039.4 1130.8h3.8M1043.1 1130.8h3.8M1046.8 1130.8h3.8M1050.5 1130.8h3.8M1054.2 1130.8h3.8M1057.9 1130.8h3.8M1061.6 1130.8h3.8M1065.3 1130.8h3.8M1069.0 1130.8h3.8M1072.7 1130.8h3.8M1076.4 1130.8h3.8M1083.8 1130.8h3.8M1087.5 1130.8h3.8M1091.2 1130.8h3.8M1094.9 1130.8h3.8M1098.6 1130.8h3.8M1109.7 1130.8h3.8M1120.8 1130.8h3.8M1124.5 1130.8h3.8M1157.8 1130.8h3.8M1161.5 1130.8h3.8M1165.2 1130.8h3.8M1180.0 1130.8h3.8M1183.7 1130.8h3.8M1191.1 1130.8h3.8M1198.5 1130.8h3.8M1205.9 1130.8h3.8M1217.0 1130.8h3.8M891.4 1134.4h3.8M921.0 1134.4h3.8M928.4 1134.4h3.8M958.0 1134.4h3.8M965.4 1134.4h3.8M983.9 1134.4h3.8M987.6 1134.4h3.8M995.0 1134.4h3.8M1002.4 1134.4h3.8M1006.1 1134.4h3.8M1009.8 1134.4h3.8M1013.5 1134.4h3.8M1017.2 1134.4h3.8M1020.9 1134.4h3.8M1024.6 1134.4h3.8M1028.3 1134.4h3.8M1032.0 1134.4h3.8M1039.4 1134.4h3.8M1046.8 1134.4h3.8M1050.5 1134.4h3.8M1054.2 1134.4h3.8M1057.9 1134.4h3.8M1061.6 1134.4h3.8M1065.3 1134.4h3.8M1069.0 1134.4h3.8M1072.7 1134.4h3.8M1076.4 1134.4h3.8M1080.1 1134.4h3.8M1087.5 1134.4h3.8M1091.2 1134.4h3.8M1094.9 1134.4h3.8M1098.6 1134.4h3.8M1109.7 1134.4h3.8M1120.8 1134.4h3.8M1124.5 1134.4h3.8M1131.9 1134.4h3.8M1150.4 1134.4h3.8M1172.6 1134.4h3.8M1176.3 1134.4h3.8M1183.7 1134.4h3.8M1187.4 1134.4h3.8M1191.1 1134.4h3.8M1194.8 1134.4h3.8M1202.2 1134.4h3.8M1209.6 1134.4h3.8M1224.4 1134.4h3.8M1242.9 1134.4h3.8M891.4 1138.0h3.8M913.6 1138.0h3.8M935.8 1138.0h3.8M969.1 1138.0h3.8M976.5 1138.0h3.8M987.6 1138.0h3.8M991.3 1138.0h3.8M998.7 1138.0h3.8M1002.4 1138.0h3.8M1009.8 1138.0h3.8M1013.5 1138.0h3.8M1020.9 1138.0h3.8M1024.6 1138.0h3.8M1028.3 1138.0h3.8M1032.0 1138.0h3.8M1035.7 1138.0h3.8M1039.4 1138.0h3.8M1043.1 1138.0h3.8M1046.8 1138.0h3.8M1050.5 1138.0h3.8M1054.2 1138.0h3.8M1057.9 1138.0h3.8M1061.6 1138.0h3.8M1065.3 1138.0h3.8M1069.0 1138.0h3.8M1072.7 1138.0h3.8M1076.4 1138.0h3.8M1080.1 1138.0h3.8M1083.8 1138.0h3.8M1087.5 1138.0h3.8M1091.2 1138.0h3.8M1098.6 1138.0h3.8M1106.0 1138.0h3.8M1109.7 1138.0h3.8M1117.1 1138.0h3.8M1120.8 1138.0h3.8M1128.2 1138.0h3.8M1131.9 1138.0h3.8M1146.7 1138.0h3.8M1150.4 1138.0h3.8M1157.8 1138.0h3.8M1194.8 1138.0h3.8M1198.5 1138.0h3.8M1202.2 1138.0h3.8M1205.9 1138.0h3.8M1213.3 1138.0h3.8M939.5 1141.6h3.8M943.2 1141.6h3.8M946.9 1141.6h3.8M950.6 1141.6h3.8M987.6 1141.6h3.8M991.3 1141.6h3.8M998.7 1141.6h3.8M1002.4 1141.6h3.8M1009.8 1141.6h3.8M1013.5 1141.6h3.8M1017.2 1141.6h3.8M1020.9 1141.6h3.8M1024.6 1141.6h3.8M1028.3 1141.6h3.8M1032.0 1141.6h3.8M1035.7 1141.6h3.8M1039.4 1141.6h3.8M1043.1 1141.6h3.8M1046.8 1141.6h3.8M1050.5 1141.6h3.8M1061.6 1141.6h3.8M1065.3 1141.6h3.8M1072.7 1141.6h3.8M1076.4 1141.6h3.8M1083.8 1141.6h3.8M1087.5 1141.6h3.8M1091.2 1141.6h3.8M1098.6 1141.6h3.8M1106.0 1141.6h3.8M1113.4 1141.6h3.8M1117.1 1141.6h3.8M1131.9 1141.6h3.8M1150.4 1141.6h3.8M1157.8 1141.6h3.8M1168.9 1141.6h3.8M1172.6 1141.6h3.8M1187.4 1141.6h3.8M1191.1 1141.6h3.8M1194.8 1141.6h3.8M1209.6 1141.6h3.8M1217.0 1141.6h3.8M1220.7 1141.6h3.8M1231.8 1141.6h3.8M917.3 1145.2h3.8M928.4 1145.2h3.8M939.5 1145.2h3.8M976.5 1145.2h3.8M995.0 1145.2h3.8M998.7 1145.2h3.8M1002.4 1145.2h3.8M1009.8 1145.2h3.8M1013.5 1145.2h3.8M1017.2 1145.2h3.8M1020.9 1145.2h3.8M1024.6 1145.2h3.8M1028.3 1145.2h3.8M1032.0 1145.2h3.8M1035.7 1145.2h3.8M1039.4 1145.2h3.8M1043.1 1145.2h3.8M1046.8 1145.2h3.8M1050.5 1145.2h3.8M1054.2 1145.2h3.8M1057.9 1145.2h3.8M1061.6 1145.2h3.8M1065.3 1145.2h3.8M1069.0 1145.2h3.8M1072.7 1145.2h3.8M1076.4 1145.2h3.8M1083.8 1145.2h3.8M1087.5 1145.2h3.8M1091.2 1145.2h3.8M1094.9 1145.2h3.8M1102.3 1145.2h3.8M1109.7 1145.2h3.8M1113.4 1145.2h3.8M1117.1 1145.2h3.8M1120.8 1145.2h3.8M1124.5 1145.2h3.8M1143.0 1145.2h3.8M1150.4 1145.2h3.8M1154.1 1145.2h3.8M1165.2 1145.2h3.8M1168.9 1145.2h3.8M1183.7 1145.2h3.8M1191.1 1145.2h3.8M1194.8 1145.2h3.8M1198.5 1145.2h3.8M1205.9 1145.2h3.8M909.9 1148.8h3.8M921.0 1148.8h3.8M924.7 1148.8h3.8M932.1 1148.8h3.8M935.8 1148.8h3.8M946.9 1148.8h3.8M969.1 1148.8h3.8M976.5 1148.8h3.8M1009.8 1148.8h3.8M1017.2 1148.8h3.8M1024.6 1148.8h3.8M1028.3 1148.8h3.8M1032.0 1148.8h3.8M1035.7 1148.8h3.8M1039.4 1148.8h3.8M1046.8 1148.8h3.8M1050.5 1148.8h3.8M1054.2 1148.8h3.8M1057.9 1148.8h3.8M1061.6 1148.8h3.8M1065.3 1148.8h3.8M1069.0 1148.8h3.8M1072.7 1148.8h3.8M1076.4 1148.8h3.8M1080.1 1148.8h3.8M1083.8 1148.8h3.8M1087.5 1148.8h3.8M1091.2 1148.8h3.8M1094.9 1148.8h3.8M1098.6 1148.8h3.8M1102.3 1148.8h3.8M1106.0 1148.8h3.8M1109.7 1148.8h3.8M1113.4 1148.8h3.8M1117.1 1148.8h3.8M1120.8 1148.8h3.8M1131.9 1148.8h3.8M1135.6 1148.8h3.8M1146.7 1148.8h3.8M1157.8 1148.8h3.8M1168.9 1148.8h3.8M1183.7 1148.8h3.8M1191.1 1148.8h3.8M1209.6 1148.8h3.8M909.9 1152.4h3.8M928.4 1152.4h3.8M939.5 1152.4h3.8M950.6 1152.4h3.8M954.3 1152.4h3.8M958.0 1152.4h3.8M961.7 1152.4h3.8M991.3 1152.4h3.8M995.0 1152.4h3.8M1006.1 1152.4h3.8M1017.2 1152.4h3.8M1020.9 1152.4h3.8M1024.6 1152.4h3.8M1028.3 1152.4h3.8M1032.0 1152.4h3.8M1035.7 1152.4h3.8M1039.4 1152.4h3.8M1043.1 1152.4h3.8M1046.8 1152.4h3.8M1050.5 1152.4h3.8M1054.2 1152.4h3.8M1057.9 1152.4h3.8M1061.6 1152.4h3.8M1065.3 1152.4h3.8M1072.7 1152.4h3.8M1076.4 1152.4h3.8M1080.1 1152.4h3.8M1083.8 1152.4h3.8M1087.5 1152.4h3.8M1091.2 1152.4h3.8M1094.9 1152.4h3.8M1098.6 1152.4h3.8M1102.3 1152.4h3.8M1106.0 1152.4h3.8M1109.7 1152.4h3.8M1117.1 1152.4h3.8M1124.5 1152.4h3.8M1135.6 1152.4h3.8M1146.7 1152.4h3.8M1172.6 1152.4h3.8M1176.3 1152.4h3.8M1191.1 1152.4h3.8M1194.8 1152.4h3.8M1198.5 1152.4h3.8M1217.0 1152.4h3.8M1231.8 1152.4h3.8M891.4 1156.0h3.8M898.8 1156.0h3.8M902.5 1156.0h3.8M921.0 1156.0h3.8M924.7 1156.0h3.8M928.4 1156.0h3.8M965.4 1156.0h3.8M969.1 1156.0h3.8M972.8 1156.0h3.8M976.5 1156.0h3.8M987.6 1156.0h3.8M991.3 1156.0h3.8M1006.1 1156.0h3.8M1009.8 1156.0h3.8M1013.5 1156.0h3.8M1017.2 1156.0h3.8M1020.9 1156.0h3.8M1024.6 1156.0h3.8M1028.3 1156.0h3.8M1032.0 1156.0h3.8M1035.7 1156.0h3.8M1039.4 1156.0h3.8M1043.1 1156.0h3.8M1046.8 1156.0h3.8M1050.5 1156.0h3.8M1054.2 1156.0h3.8M1057.9 1156.0h3.8M1061.6 1156.0h3.8M1065.3 1156.0h3.8M1069.0 1156.0h3.8M1072.7 1156.0h3.8M1076.4 1156.0h3.8M1080.1 1156.0h3.8M1083.8 1156.0h3.8M1087.5 1156.0h3.8M1091.2 1156.0h3.8M1094.9 1156.0h3.8M1098.6 1156.0h3.8M1106.0 1156.0h3.8M1109.7 1156.0h3.8M1113.4 1156.0h3.8M1128.2 1156.0h3.8M1131.9 1156.0h3.8M1139.3 1156.0h3.8M1165.2 1156.0h3.8M1191.1 1156.0h3.8M1194.8 1156.0h3.8M1213.3 1156.0h3.8M895.1 1159.6h3.8M902.5 1159.6h3.8M924.7 1159.6h3.8M935.8 1159.6h3.8M969.1 1159.6h3.8M972.8 1159.6h3.8M991.3 1159.6h3.8M998.7 1159.6h3.8M1006.1 1159.6h3.8M1017.2 1159.6h3.8M1020.9 1159.6h3.8M1032.0 1159.6h3.8M1039.4 1159.6h3.8M1050.5 1159.6h3.8M1054.2 1159.6h3.8M1057.9 1159.6h3.8M1061.6 1159.6h3.8M1065.3 1159.6h3.8M1069.0 1159.6h3.8M1072.7 1159.6h3.8M1076.4 1159.6h3.8M1080.1 1159.6h3.8M1087.5 1159.6h3.8M1091.2 1159.6h3.8M1094.9 1159.6h3.8M1098.6 1159.6h3.8M1106.0 1159.6h3.8M1109.7 1159.6h3.8M1128.2 1159.6h3.8M1139.3 1159.6h3.8M1146.7 1159.6h3.8M1150.4 1159.6h3.8M1154.1 1159.6h3.8M1165.2 1159.6h3.8M1183.7 1159.6h3.8M1205.9 1159.6h3.8M1209.6 1159.6h3.8M1220.7 1159.6h3.8M1224.4 1159.6h3.8M828.5 1163.2h3.8M887.7 1163.2h3.8M891.4 1163.2h3.8M939.5 1163.2h3.8M961.7 1163.2h3.8M980.2 1163.2h3.8M998.7 1163.2h3.8M1009.8 1163.2h3.8M1013.5 1163.2h3.8M1017.2 1163.2h3.8M1032.0 1163.2h3.8M1035.7 1163.2h3.8M1043.1 1163.2h3.8M1046.8 1163.2h3.8M1050.5 1163.2h3.8M1054.2 1163.2h3.8M1061.6 1163.2h3.8M1065.3 1163.2h3.8M1069.0 1163.2h3.8M1072.7 1163.2h3.8M1076.4 1163.2h3.8M1080.1 1163.2h3.8M1083.8 1163.2h3.8M1087.5 1163.2h3.8M1094.9 1163.2h3.8M1098.6 1163.2h3.8M1106.0 1163.2h3.8M1109.7 1163.2h3.8M1150.4 1163.2h3.8M1154.1 1163.2h3.8M1161.5 1163.2h3.8M1172.6 1163.2h3.8M1183.7 1163.2h3.8M1187.4 1163.2h3.8M1239.2 1163.2h3.8M869.2 1166.8h3.8M898.8 1166.8h3.8M935.8 1166.8h3.8M958.0 1166.8h3.8M983.9 1166.8h3.8M1002.4 1166.8h3.8M1006.1 1166.8h3.8M1009.8 1166.8h3.8M1017.2 1166.8h3.8M1020.9 1166.8h3.8M1024.6 1166.8h3.8M1028.3 1166.8h3.8M1032.0 1166.8h3.8M1035.7 1166.8h3.8M1039.4 1166.8h3.8M1043.1 1166.8h3.8M1046.8 1166.8h3.8M1050.5 1166.8h3.8M1054.2 1166.8h3.8M1057.9 1166.8h3.8M1061.6 1166.8h3.8M1065.3 1166.8h3.8M1069.0 1166.8h3.8M1072.7 1166.8h3.8M1076.4 1166.8h3.8M1080.1 1166.8h3.8M1087.5 1166.8h3.8M1098.6 1166.8h3.8M1102.3 1166.8h3.8M1106.0 1166.8h3.8M1109.7 1166.8h3.8M1117.1 1166.8h3.8M1120.8 1166.8h3.8M1124.5 1166.8h3.8M1128.2 1166.8h3.8M1131.9 1166.8h3.8M1165.2 1166.8h3.8M1194.8 1166.8h3.8M1217.0 1166.8h3.8M998.7 1170.4h3.8M1013.5 1170.4h3.8M1017.2 1170.4h3.8M1028.3 1170.4h3.8M1035.7 1170.4h3.8M1039.4 1170.4h3.8M1043.1 1170.4h3.8M1046.8 1170.4h3.8M1050.5 1170.4h3.8M1061.6 1170.4h3.8M1072.7 1170.4h3.8M1076.4 1170.4h3.8M1091.2 1170.4h3.8M1102.3 1170.4h3.8M1124.5 1170.4h3.8M1128.2 1170.4h3.8M943.2 1174.0h3.8M958.0 1174.0h3.8M987.6 1174.0h3.8M1009.8 1174.0h3.8M1013.5 1174.0h3.8M1035.7 1174.0h3.8M1039.4 1174.0h3.8M1043.1 1174.0h3.8M1050.5 1174.0h3.8M1057.9 1174.0h3.8M1061.6 1174.0h3.8M1065.3 1174.0h3.8M1069.0 1174.0h3.8M1072.7 1174.0h3.8M1076.4 1174.0h3.8M1080.1 1174.0h3.8M1083.8 1174.0h3.8M1087.5 1174.0h3.8M1091.2 1174.0h3.8M1094.9 1174.0h3.8M1106.0 1174.0h3.8M1120.8 1174.0h3.8M1124.5 1174.0h3.8M1128.2 1174.0h3.8M1161.5 1174.0h3.8M1176.3 1174.0h3.8M932.1 1177.6h3.8M976.5 1177.6h3.8M998.7 1177.6h3.8M1020.9 1177.6h3.8M1024.6 1177.6h3.8M1028.3 1177.6h3.8M1050.5 1177.6h3.8M1057.9 1177.6h3.8M1061.6 1177.6h3.8M1065.3 1177.6h3.8M1069.0 1177.6h3.8M1072.7 1177.6h3.8M1076.4 1177.6h3.8M1080.1 1177.6h3.8M1083.8 1177.6h3.8M1098.6 1177.6h3.8M1113.4 1177.6h3.8M1117.1 1177.6h3.8M1120.8 1177.6h3.8M1128.2 1177.6h3.8M1146.7 1177.6h3.8M1150.4 1177.6h3.8M1157.8 1177.6h3.8M1176.3 1177.6h3.8M913.6 1181.2h3.8M965.4 1181.2h3.8M976.5 1181.2h3.8M980.2 1181.2h3.8M995.0 1181.2h3.8M1013.5 1181.2h3.8M1028.3 1181.2h3.8M1043.1 1181.2h3.8M1054.2 1181.2h3.8M1057.9 1181.2h3.8M1061.6 1181.2h3.8M1072.7 1181.2h3.8M1076.4 1181.2h3.8M1080.1 1181.2h3.8M1083.8 1181.2h3.8M1094.9 1181.2h3.8M1098.6 1181.2h3.8M1113.4 1181.2h3.8M1135.6 1181.2h3.8M1143.0 1181.2h3.8M869.2 1184.8h3.8M1002.4 1184.8h3.8M1017.2 1184.8h3.8M1028.3 1184.8h3.8M1035.7 1184.8h3.8M1046.8 1184.8h3.8M1054.2 1184.8h3.8M1057.9 1184.8h3.8M1065.3 1184.8h3.8M1069.0 1184.8h3.8M1076.4 1184.8h3.8M1087.5 1184.8h3.8M1109.7 1184.8h3.8M1117.1 1184.8h3.8M1120.8 1184.8h3.8M1131.9 1184.8h3.8M1198.5 1184.8h3.8M1217.0 1184.8h3.8M854.4 1188.4h3.8M954.3 1188.4h3.8M1009.8 1188.4h3.8M1035.7 1188.4h3.8M1050.5 1188.4h3.8M1054.2 1188.4h3.8M1057.9 1188.4h3.8M1061.6 1188.4h3.8M1065.3 1188.4h3.8M1072.7 1188.4h3.8M1076.4 1188.4h3.8M1080.1 1188.4h3.8M1083.8 1188.4h3.8M1091.2 1188.4h3.8M1098.6 1188.4h3.8M1117.1 1188.4h3.8M1165.2 1188.4h3.8M939.5 1192.0h3.8M983.9 1192.0h3.8M987.6 1192.0h3.8M1002.4 1192.0h3.8M1032.0 1192.0h3.8M1035.7 1192.0h3.8M1076.4 1192.0h3.8M1080.1 1192.0h3.8M1239.2 1192.0h3.8M987.6 1195.6h3.8M991.3 1195.6h3.8M1020.9 1195.6h3.8M1028.3 1195.6h3.8M1032.0 1195.6h3.8M1043.1 1195.6h3.8M1050.5 1195.6h3.8M1069.0 1195.6h3.8M1083.8 1195.6h3.8M1087.5 1195.6h3.8M1117.1 1195.6h3.8M1120.8 1195.6h3.8M1124.5 1195.6h3.8M1172.6 1195.6h3.8M917.3 1199.2h3.8M932.1 1199.2h3.8M946.9 1199.2h3.8M1013.5 1199.2h3.8M1017.2 1199.2h3.8M1035.7 1199.2h3.8M1050.5 1199.2h3.8M1098.6 1199.2h3.8M1139.3 1199.2h3.8M1143.0 1199.2h3.8M1242.9 1199.2h3.8M1002.4 1202.8h3.8M1024.6 1202.8h3.8M1032.0 1202.8h3.8M1072.7 1202.8h3.8M1094.9 1202.8h3.8M965.4 1206.4h3.8M1028.3 1206.4h3.8M1046.8 1206.4h3.8M1109.7 1206.4h3.8M1209.6 1206.4h3.8M995.0 1210.0h3.8M1094.9 1210.0h3.8M1154.1 1210.0h3.8M928.4 1213.6h3.8M1054.2 1213.6h3.8M1072.7 1213.6h3.8M1091.2 1213.6h3.8M1113.4 1213.6h3.8M1139.3 1213.6h3.8M1168.9 1213.6h3.8M1024.6 1217.2h3.8M1050.5 1217.2h3.8M1061.6 1217.2h3.8M1124.5 1217.2h3.8M1146.7 1217.2h3.8M917.3 1220.8h3.8M1050.5 1220.8h3.8M1106.0 1220.8h3.8M1131.9 1220.8h3.8M1176.3 1220.8h3.8M1069.0 1224.4h3.8M1080.1 1224.4h3.8M1091.2 1224.4h3.8M850.7 1228.0h3.8M932.1 1228.0h3.8M1035.7 1228.0h3.8M1039.4 1228.0h3.8M1046.8 1228.0h3.8M1054.2 1228.0h3.8M1080.1 1228.0h3.8M1120.8 1228.0h3.8M1109.7 1231.6h3.8M898.8 1235.2h3.8M983.9 1235.2h3.8M1013.5 1235.2h3.8M1017.2 1235.2h3.8M1028.3 1235.2h3.8M1032.0 1235.2h3.8M1043.1 1235.2h3.8M1061.6 1238.8h3.8M1113.4 1238.8h3.8M1035.7 1246.0h3.8M1050.5 1246.0h3.8M1072.7 1246.0h3.8M1054.2 1249.6h3.8M1083.8 1249.6h3.8M1094.9 1249.6h3.8M1165.2 1249.6h3.8M1050.5 1253.2h3.8M1020.9 1256.8h3.8M1032.0 1256.8h3.8M1154.1 1256.8h3.8M1043.1 1264.0h3.8M1135.6 1264.0h3.8M1013.5 1267.6h3.8M1050.5 1267.6h3.8M891.4 1271.2h3.8M1039.4 1271.2h3.8M1043.1 1274.8h3.8M1046.8 1274.8h3.8M1035.7 1278.4h3.8M1043.1 1278.4h3.8M1046.8 1278.4h3.8M1061.6 1278.4h3.8M1069.0 1285.6h3.8M1076.4 1285.6h3.8M1032.0 1289.2h3.8M1069.0 1296.4h3.8M921.0 1303.6h3.8M1013.5 1307.2h3.8M1102.3 1307.2h3.8M1087.5 1310.8h3.8M909.8 1313.8h3.8M917.2 1313.8h3.8M920.9 1313.8h3.8M924.6 1313.8h3.8M932.0 1313.8h3.8M935.7 1313.8h3.8M972.7 1313.8h3.8M980.1 1313.8h3.8M998.6 1313.8h3.8M1009.7 1313.8h3.8M1020.8 1313.8h3.8M1028.2 1313.8h3.8M1031.9 1313.8h3.8M1050.4 1313.8h3.8M1057.8 1313.8h3.8M1068.9 1313.8h3.8M1076.3 1313.8h3.8M1080.0 1313.8h3.8M1087.4 1313.8h3.8M1094.8 1313.8h3.8M1109.6 1313.8h3.8M1117.0 1313.8h3.8M1124.4 1313.8h3.8M1131.8 1313.8h3.8M1135.5 1313.8h3.8M1139.2 1313.8h3.8M1142.9 1313.8h3.8M1150.3 1313.8h3.8M1157.7 1313.8h3.8M1179.9 1313.8h3.8M1183.6 1313.8h3.8M1187.3 1313.8h3.8M820.6 1078.0h3.8M820.6 1081.6h3.8M820.6 1085.2h3.8M820.6 1092.4h3.8M820.6 1096.0h3.8M820.6 1099.6h3.8M820.6 1106.8h3.8M820.6 1114.0h3.8M820.6 1121.2h3.8M820.6 1124.8h3.8M820.6 1128.4h3.8M820.6 1132.0h3.8M820.6 1135.6h3.8M820.6 1139.2h3.8M820.6 1142.8h3.8M820.6 1150.0h3.8M820.6 1157.2h3.8M820.6 1164.4h3.8M820.6 1168.0h3.8M820.6 1171.6h3.8M820.6 1175.2h3.8M820.6 1178.8h3.8M820.6 1182.4h3.8M820.6 1186.0h3.8M820.6 1189.6h3.8M820.6 1193.2h3.8M820.6 1196.8h3.8M820.6 1200.4h3.8M820.6 1204.0h3.8M820.6 1207.6h3.8M820.6 1211.2h3.8M820.6 1214.8h3.8M820.6 1218.4h3.8M820.6 1222.0h3.8M820.6 1225.6h3.8M820.6 1236.4h3.8M820.6 1240.0h3.8M820.6 1247.2h3.8M820.6 1250.8h3.8M820.6 1254.4h3.8M820.6 1258.0h3.8M820.6 1261.6h3.8M820.6 1265.2h3.8M820.6 1268.8h3.8M820.6 1276.0h3.8M820.6 1279.6h3.8M820.6 1283.2h3.8M820.6 1286.8h3.8" stroke="#ff0000" stroke-width="3.7"/>
<line x1="324.5" y1="31.0" x2="324.5" y2="596.0" stroke="#ff0000" stroke-width="1.2" stroke-linecap="butt"/>
<rect x="120.0" y="30.0" width="511.0" height="567.0" fill="none" stroke="#000" stroke-width="3.4"/>
<path d="M152.0 597.0v6.5M170.0 597.0v6.5M182.8 597.0v6.5M192.7 597.0v6.5M200.7 597.0v6.5M207.6 597.0v6.5M213.5 597.0v6.5M218.7 597.0v6.5M253.9 597.0v6.5M271.8 597.0v6.5M284.4 597.0v6.5M294.3 597.0v6.5M302.3 597.0v6.5M309.1 597.0v6.5M315.0 597.0v6.5M320.2 597.0v6.5M354.9 597.0v6.5M372.5 597.0v6.5M385.0 597.0v6.5M394.7 597.0v6.5M402.6 597.0v6.5M409.3 597.0v6.5M415.1 597.0v6.5M420.2 597.0v6.5M455.4 597.0v6.5M473.4 597.0v6.5M486.1 597.0v6.5M496.0 597.0v6.5M504.0 597.0v6.5M510.8 597.0v6.5M516.7 597.0v6.5M521.9 597.0v6.5M557.4 597.0v6.5M575.4 597.0v6.5M588.2 597.0v6.5M598.1 597.0v6.5M606.2 597.0v6.5M613.1 597.0v6.5M619.0 597.0v6.5M624.2 597.0v6.5" stroke="#000" stroke-width="2.6" stroke-linecap="round"/>
<path d="M121.3 597.0v11M223.4 597.0v11M324.8 597.0v11M424.8 597.0v11M526.6 597.0v11M628.9 597.0v11" stroke="#000" stroke-width="3.6" stroke-linecap="round"/>
<text x="94.8" y="638.0" font-size="31.5">10</text>
<text x="133.1" y="622.5" font-size="21">0</text>
<text x="196.9" y="638.0" font-size="31.5">10</text>
<text x="235.2" y="622.5" font-size="21">1</text>
<text x="298.3" y="638.0" font-size="31.5">10</text>
<text x="336.6" y="622.5" font-size="21">2</text>
<text x="398.3" y="638.0" font-size="31.5">10</text>
<text x="436.6" y="622.5" font-size="21">3</text>
<text x="500.1" y="638.0" font-size="31.5">10</text>
<text x="538.4" y="622.5" font-size="21">4</text>
<text x="602.4" y="638.0" font-size="31.5">10</text>
<text x="640.7" y="622.5" font-size="21">5</text>
<path d="M120.0 585.7h-6M120.0 574.3h-6M120.0 563.0h-6M120.0 551.6h-6M120.0 529.0h-6M120.0 517.6h-6M120.0 506.3h-6M120.0 494.9h-6M120.0 472.3h-6M120.0 460.9h-6M120.0 449.6h-6M120.0 438.2h-6M120.0 415.6h-6M120.0 404.2h-6M120.0 392.9h-6M120.0 381.5h-6M120.0 358.9h-6M120.0 347.5h-6M120.0 336.2h-6M120.0 324.8h-6M120.0 302.2h-6M120.0 290.8h-6M120.0 279.5h-6M120.0 268.1h-6M120.0 245.5h-6M120.0 234.1h-6M120.0 222.8h-6M120.0 211.4h-6M120.0 188.8h-6M120.0 177.4h-6M120.0 166.1h-6M120.0 154.7h-6M120.0 132.1h-6M120.0 120.7h-6M120.0 109.4h-6M120.0 98.0h-6M120.0 75.4h-6M120.0 64.0h-6M120.0 52.7h-6M120.0 41.3h-6" stroke="#000" stroke-width="2.6" stroke-linecap="round"/>
<path d="M120.0 597.0h-12M120.0 540.3h-12M120.0 483.6h-12M120.0 426.9h-12M120.0 370.2h-12M120.0 313.5h-12M120.0 256.8h-12M120.0 200.1h-12M120.0 143.4h-12M120.0 86.7h-12M120.0 30.0h-12" stroke="#000" stroke-width="3.6" stroke-linecap="round"/>
<text x="0.0" y="46.0" font-size="29" font-weight="bold">A</text>
<text x="117.0" y="22.2" font-size="29" textLength="270" lengthAdjust="spacingAndGlyphs">Plot P01, ungated</text>
<text x="149.5" y="673.6" font-size="29.5" textLength="431.5" lengthAdjust="spacingAndGlyphs">Forward Scatter (FSC-HLog)</text>
<text transform="translate(107.5,598.0) rotate(-90)" font-size="31.5" text-anchor="middle">0</text>
<text transform="translate(107.5,484.6) rotate(-90)" font-size="31.5" text-anchor="middle">20000</text>
<text transform="translate(107.5,371.2) rotate(-90)" font-size="31.5" text-anchor="middle">40000</text>
<text transform="translate(107.5,257.8) rotate(-90)" font-size="31.5" text-anchor="middle">60000</text>
<text transform="translate(107.5,144.4) rotate(-90)" font-size="31.5" text-anchor="middle">80000</text>
<text transform="translate(64.2,320.9) rotate(-90)" font-size="31" text-anchor="middle" textLength="365" lengthAdjust="spacingAndGlyphs">Side Scatter (SSC-HLin)</text>
<polygon points="364.3,545.6 542.6,495.1 527.5,587.3 348.4,595" fill="none" stroke="#ff0000" stroke-width="3"/>
<text x="351.5" y="527.5" font-size="29.6" fill="#ff0000" textLength="38.5" lengthAdjust="spacingAndGlyphs">R1</text>
<line x1="960.5" y1="31.5" x2="960.5" y2="594.5" stroke="#ff0000" stroke-width="3.2" stroke-linecap="butt"/>
<line x1="825.8" y1="347.9" x2="1331.5" y2="347.9" stroke="#ff0000" stroke-width="3.2" stroke-linecap="butt"/>
<circle cx="960.5" cy="137.0" r="10" fill="none" stroke="#ff0000" stroke-width="2.8"/>
<circle cx="960.5" cy="347.9" r="10" fill="none" stroke="#ff0000" stroke-width="2.8"/>
<circle cx="1207.8" cy="347.9" r="10" fill="none" stroke="#ff0000" stroke-width="2.8"/>
<text x="962.2" y="331.5" font-size="29.6" fill="#ff0000" textLength="40" lengthAdjust="spacingAndGlyphs">R4</text>
<rect x="824.3" y="30.0" width="508.7" height="566.0" fill="none" stroke="#000" stroke-width="3.4"/>
<path d="M856.2 596.0v6.5M874.3 596.0v6.5M887.1 596.0v6.5M897.1 596.0v6.5M905.2 596.0v6.5M912.1 596.0v6.5M918.0 596.0v6.5M923.3 596.0v6.5M958.5 596.0v6.5M976.4 596.0v6.5M989.0 596.0v6.5M998.9 596.0v6.5M1006.9 596.0v6.5M1013.7 596.0v6.5M1019.6 596.0v6.5M1024.8 596.0v6.5M1059.4 596.0v6.5M1076.9 596.0v6.5M1089.4 596.0v6.5M1099.0 596.0v6.5M1106.9 596.0v6.5M1113.6 596.0v6.5M1119.3 596.0v6.5M1124.4 596.0v6.5M1159.0 596.0v6.5M1176.6 596.0v6.5M1189.1 596.0v6.5M1198.8 596.0v6.5M1206.7 596.0v6.5M1213.3 596.0v6.5M1219.1 596.0v6.5M1224.2 596.0v6.5M1259.3 596.0v6.5M1277.1 596.0v6.5M1289.7 596.0v6.5M1299.5 596.0v6.5M1307.5 596.0v6.5M1314.3 596.0v6.5M1320.2 596.0v6.5M1325.4 596.0v6.5" stroke="#000" stroke-width="2.6" stroke-linecap="round"/>
<path d="M825.3 596.0v11M928.0 596.0v11M1029.4 596.0v11M1129.0 596.0v11M1228.8 596.0v11M1330.0 596.0v11" stroke="#000" stroke-width="3.6" stroke-linecap="round"/>
<text x="798.8" y="637.0" font-size="31.5">10</text>
<text x="837.1" y="621.5" font-size="21">0</text>
<text x="901.5" y="637.0" font-size="31.5">10</text>
<text x="939.8" y="621.5" font-size="21">1</text>
<text x="1002.9" y="637.0" font-size="31.5">10</text>
<text x="1041.2" y="621.5" font-size="21">2</text>
<text x="1102.5" y="637.0" font-size="31.5">10</text>
<text x="1140.8" y="621.5" font-size="21">3</text>
<text x="1202.3" y="637.0" font-size="31.5">10</text>
<text x="1240.6" y="621.5" font-size="21">4</text>
<text x="1303.5" y="637.0" font-size="31.5">10</text>
<text x="1341.8" y="621.5" font-size="21">5</text>
<path d="M824.3 561.4h-6.5M824.3 541.8h-6.5M824.3 527.9h-6.5M824.3 517.1h-6.5M824.3 508.2h-6.5M824.3 500.8h-6.5M824.3 494.3h-6.5M824.3 488.6h-6.5M824.3 449.5h-6.5M824.3 429.6h-6.5M824.3 415.5h-6.5M824.3 404.5h-6.5M824.3 395.6h-6.5M824.3 388.0h-6.5M824.3 381.5h-6.5M824.3 375.7h-6.5M824.3 336.5h-6.5M824.3 316.6h-6.5M824.3 302.5h-6.5M824.3 291.5h-6.5M824.3 282.6h-6.5M824.3 275.0h-6.5M824.3 268.5h-6.5M824.3 262.7h-6.5M824.3 223.5h-6.5M824.3 203.5h-6.5M824.3 189.4h-6.5M824.3 178.4h-6.5M824.3 169.5h-6.5M824.3 161.9h-6.5M824.3 155.4h-6.5M824.3 149.6h-6.5M824.3 110.3h-6.5M824.3 90.3h-6.5M824.3 76.1h-6.5M824.3 65.1h-6.5M824.3 56.2h-6.5M824.3 48.6h-6.5M824.3 42.0h-6.5M824.3 36.2h-6.5" stroke="#000" stroke-width="2.6" stroke-linecap="round"/>
<path d="M824.3 595.0h-11M824.3 483.5h-11M824.3 370.5h-11M824.3 257.5h-11M824.3 144.4h-11M824.3 31.0h-11" stroke="#000" stroke-width="3.6" stroke-linecap="round"/>
<text transform="translate(813.8,621.6) rotate(-90)" font-size="31.5">10</text>
<text transform="translate(797.8,582.6) rotate(-90)" font-size="21">0</text>
<text transform="translate(813.8,510.1) rotate(-90)" font-size="31.5">10</text>
<text transform="translate(797.8,471.1) rotate(-90)" font-size="21">1</text>
<text transform="translate(813.8,397.1) rotate(-90)" font-size="31.5">10</text>
<text transform="translate(797.8,358.1) rotate(-90)" font-size="21">2</text>
<text transform="translate(813.8,284.1) rotate(-90)" font-size="31.5">10</text>
<text transform="translate(797.8,245.1) rotate(-90)" font-size="21">3</text>
<text transform="translate(813.8,171.0) rotate(-90)" font-size="31.5">10</text>
<text transform="translate(797.8,132.0) rotate(-90)" font-size="21">4</text>
<text transform="translate(813.8,57.6) rotate(-90)" font-size="31.5">10</text>
<text transform="translate(797.8,18.6) rotate(-90)" font-size="21">5</text>
<text x="705.0" y="46.0" font-size="29" font-weight="bold">B</text>
<text x="821.8" y="22.2" font-size="29" textLength="394.5" lengthAdjust="spacingAndGlyphs">Plot P02, gated on P01.R1</text>
<text x="853.8" y="674.0" font-size="29.5" textLength="431.5" lengthAdjust="spacingAndGlyphs">Alexa Fluor 488 (GRN-HLog)</text>
<text transform="translate(770.0,320.9) rotate(-90)" font-size="31" text-anchor="middle" textLength="492" lengthAdjust="spacingAndGlyphs">Red2 Fluorescence (RED2-HLog)</text>
<text x="1197.3" y="68.3" font-size="42" textLength="126.5" lengthAdjust="spacingAndGlyphs">Control</text>
<line x1="256.1" y1="751.5" x2="256.1" y2="1314.5" stroke="#ff0000" stroke-width="3.8" stroke-linecap="butt"/>
<line x1="121.5" y1="1067.9" x2="629.5" y2="1067.9" stroke="#ff0000" stroke-width="3.8" stroke-linecap="butt"/>
<circle cx="256.1" cy="856.8" r="10" fill="none" stroke="#ff0000" stroke-width="2.8"/>
<circle cx="256.1" cy="1067.9" r="10" fill="none" stroke="#ff0000" stroke-width="2.8"/>
<circle cx="505.4" cy="1067.9" r="10" fill="none" stroke="#ff0000" stroke-width="2.8"/>
<line x1="256.5" y1="983.0" x2="458.8" y2="983.0" stroke="#ff0000" stroke-width="3.8" stroke-linecap="butt"/>
<line x1="458.8" y1="961.7" x2="458.8" y2="1027.0" stroke="#ff0000" stroke-width="2.8" stroke-linecap="butt"/>
<line x1="458.8" y1="1008.5" x2="624.8" y2="1008.5" stroke="#ff0000" stroke-width="3.2" stroke-linecap="butt"/>
<line x1="624.8" y1="994.0" x2="624.8" y2="1027.0" stroke="#ff0000" stroke-width="2.8" stroke-linecap="butt"/>
<text x="335.8" y="976.1" font-size="32" fill="#ff0000" textLength="42.5" lengthAdjust="spacingAndGlyphs">R2</text>
<text x="521.8" y="1003.3" font-size="32" fill="#ff0000" textLength="41.6" lengthAdjust="spacingAndGlyphs">R3</text>
<text x="218.5" y="1052.0" font-size="32" fill="#ff0000" textLength="39" lengthAdjust="spacingAndGlyphs">R4</text>
<rect x="120.0" y="750.0" width="511.0" height="566.0" fill="none" stroke="#000" stroke-width="3.4"/>
<path d="M151.7 1316.0v6.5M169.7 1316.0v6.5M182.5 1316.0v6.5M192.4 1316.0v6.5M200.6 1316.0v6.5M207.4 1316.0v6.5M213.4 1316.0v6.5M218.6 1316.0v6.5M253.9 1316.0v6.5M271.7 1316.0v6.5M284.4 1316.0v6.5M294.2 1316.0v6.5M302.3 1316.0v6.5M309.1 1316.0v6.5M315.0 1316.0v6.5M320.2 1316.0v6.5M354.9 1316.0v6.5M372.5 1316.0v6.5M385.0 1316.0v6.5M394.7 1316.0v6.5M402.6 1316.0v6.5M409.3 1316.0v6.5M415.1 1316.0v6.5M420.2 1316.0v6.5M455.4 1316.0v6.5M473.4 1316.0v6.5M486.1 1316.0v6.5M496.0 1316.0v6.5M504.0 1316.0v6.5M510.8 1316.0v6.5M516.7 1316.0v6.5M521.9 1316.0v6.5M557.4 1316.0v6.5M575.5 1316.0v6.5M588.3 1316.0v6.5M598.2 1316.0v6.5M606.3 1316.0v6.5M613.1 1316.0v6.5M619.1 1316.0v6.5M624.3 1316.0v6.5" stroke="#000" stroke-width="2.6" stroke-linecap="round"/>
<path d="M120.8 1316.0v11M223.3 1316.0v11M324.8 1316.0v11M424.8 1316.0v11M526.6 1316.0v11M629.0 1316.0v11" stroke="#000" stroke-width="3.6" stroke-linecap="round"/>
<text x="94.3" y="1357.0" font-size="31.5">10</text>
<text x="132.6" y="1341.5" font-size="21">0</text>
<text x="196.8" y="1357.0" font-size="31.5">10</text>
<text x="235.1" y="1341.5" font-size="21">1</text>
<text x="298.3" y="1357.0" font-size="31.5">10</text>
<text x="336.6" y="1341.5" font-size="21">2</text>
<text x="398.3" y="1357.0" font-size="31.5">10</text>
<text x="436.6" y="1341.5" font-size="21">3</text>
<text x="500.1" y="1357.0" font-size="31.5">10</text>
<text x="538.4" y="1341.5" font-size="21">4</text>
<text x="602.5" y="1357.0" font-size="31.5">10</text>
<text x="640.8" y="1341.5" font-size="21">5</text>
<path d="M120.0 1281.4h-6.5M120.0 1261.8h-6.5M120.0 1247.9h-6.5M120.0 1237.1h-6.5M120.0 1228.2h-6.5M120.0 1220.8h-6.5M120.0 1214.3h-6.5M120.0 1208.6h-6.5M120.0 1169.5h-6.5M120.0 1149.6h-6.5M120.0 1135.5h-6.5M120.0 1124.5h-6.5M120.0 1115.6h-6.5M120.0 1108.0h-6.5M120.0 1101.5h-6.5M120.0 1095.7h-6.5M120.0 1056.5h-6.5M120.0 1036.6h-6.5M120.0 1022.5h-6.5M120.0 1011.5h-6.5M120.0 1002.6h-6.5M120.0 995.0h-6.5M120.0 988.5h-6.5M120.0 982.7h-6.5M120.0 943.5h-6.5M120.0 923.5h-6.5M120.0 909.4h-6.5M120.0 898.4h-6.5M120.0 889.5h-6.5M120.0 881.9h-6.5M120.0 875.4h-6.5M120.0 869.6h-6.5M120.0 830.3h-6.5M120.0 810.3h-6.5M120.0 796.1h-6.5M120.0 785.1h-6.5M120.0 776.2h-6.5M120.0 768.6h-6.5M120.0 762.0h-6.5M120.0 756.2h-6.5" stroke="#000" stroke-width="2.6" stroke-linecap="round"/>
<path d="M120.0 1315.0h-11M120.0 1203.5h-11M120.0 1090.5h-11M120.0 977.5h-11M120.0 864.4h-11M120.0 751.0h-11" stroke="#000" stroke-width="3.6" stroke-linecap="round"/>
<text transform="translate(109.5,1341.6) rotate(-90)" font-size="31.5">10</text>
<text transform="translate(93.5,1302.6) rotate(-90)" font-size="21">0</text>
<text transform="translate(109.5,1230.1) rotate(-90)" font-size="31.5">10</text>
<text transform="translate(93.5,1191.1) rotate(-90)" font-size="21">1</text>
<text transform="translate(109.5,1117.1) rotate(-90)" font-size="31.5">10</text>
<text transform="translate(93.5,1078.1) rotate(-90)" font-size="21">2</text>
<text transform="translate(109.5,1004.1) rotate(-90)" font-size="31.5">10</text>
<text transform="translate(93.5,965.1) rotate(-90)" font-size="21">3</text>
<text transform="translate(109.5,891.0) rotate(-90)" font-size="31.5">10</text>
<text transform="translate(93.5,852.0) rotate(-90)" font-size="21">4</text>
<text transform="translate(109.5,777.6) rotate(-90)" font-size="31.5">10</text>
<text transform="translate(93.5,738.6) rotate(-90)" font-size="21">5</text>
<text x="0.0" y="732.3" font-size="29" font-weight="bold">C</text>
<text x="117.2" y="742.2" font-size="29" textLength="397" lengthAdjust="spacingAndGlyphs">Plot P02, gated on P01.R1</text>
<text x="148.6" y="1394.7" font-size="29.5" textLength="436" lengthAdjust="spacingAndGlyphs">Alexa Fluor 488 (GRN-HLog)</text>
<text transform="translate(64.2,1040.3) rotate(-90)" font-size="31" text-anchor="middle" textLength="492" lengthAdjust="spacingAndGlyphs">Red2 Fluorescence (RED2-HLog)</text>
<text x="407.1" y="786.7" font-size="38.5" font-style="italic" textLength="217.6" lengthAdjust="spacingAndGlyphs">S. cerevisiae</text>
<line x1="957.2" y1="751.5" x2="957.2" y2="1314.5" stroke="#ff0000" stroke-width="3.8" stroke-linecap="butt"/>
<line x1="821.8" y1="1067.9" x2="1329.7" y2="1067.9" stroke="#ff0000" stroke-width="3.8" stroke-linecap="butt"/>
<circle cx="957.2" cy="856.8" r="10" fill="none" stroke="#ff0000" stroke-width="2.8"/>
<circle cx="957.2" cy="1067.9" r="10" fill="none" stroke="#ff0000" stroke-width="2.8"/>
<circle cx="1205.4" cy="1067.9" r="10" fill="none" stroke="#ff0000" stroke-width="2.8"/>
<line x1="957.2" y1="983.0" x2="1160.5" y2="983.0" stroke="#ff0000" stroke-width="3.8" stroke-linecap="butt"/>
<line x1="1160.5" y1="961.7" x2="1160.5" y2="1027.0" stroke="#ff0000" stroke-width="2.8" stroke-linecap="butt"/>
<line x1="1160.5" y1="1008.5" x2="1326.1" y2="1008.5" stroke="#ff0000" stroke-width="3.2" stroke-linecap="butt"/>
<line x1="1326.1" y1="994.0" x2="1326.1" y2="1027.0" stroke="#ff0000" stroke-width="2.8" stroke-linecap="butt"/>
<text x="1036.8" y="976.1" font-size="32" fill="#ff0000" textLength="43" lengthAdjust="spacingAndGlyphs">R2</text>
<text x="1221.7" y="1003.3" font-size="32" fill="#ff0000" textLength="41.7" lengthAdjust="spacingAndGlyphs">R3</text>
<text x="957.6" y="1052.0" font-size="32" fill="#ff0000" textLength="40.6" lengthAdjust="spacingAndGlyphs">R4</text>
<rect x="820.3" y="750.0" width="510.9" height="566.0" fill="none" stroke="#000" stroke-width="3.4"/>
<path d="M852.5 1316.0v6.5M870.3 1316.0v6.5M883.0 1316.0v6.5M892.8 1316.0v6.5M900.8 1316.0v6.5M907.5 1316.0v6.5M913.4 1316.0v6.5M918.6 1316.0v6.5M953.6 1316.0v6.5M971.4 1316.0v6.5M984.1 1316.0v6.5M993.9 1316.0v6.5M1001.9 1316.0v6.5M1008.6 1316.0v6.5M1014.5 1316.0v6.5M1019.7 1316.0v6.5M1054.7 1316.0v6.5M1072.5 1316.0v6.5M1085.2 1316.0v6.5M1095.0 1316.0v6.5M1103.0 1316.0v6.5M1109.7 1316.0v6.5M1115.6 1316.0v6.5M1120.8 1316.0v6.5M1155.8 1316.0v6.5M1173.6 1316.0v6.5M1186.3 1316.0v6.5M1196.1 1316.0v6.5M1204.1 1316.0v6.5M1210.8 1316.0v6.5M1216.7 1316.0v6.5M1221.9 1316.0v6.5M1256.9 1316.0v6.5M1274.7 1316.0v6.5M1287.4 1316.0v6.5M1297.2 1316.0v6.5M1305.2 1316.0v6.5M1311.9 1316.0v6.5M1317.8 1316.0v6.5M1323.0 1316.0v6.5" stroke="#000" stroke-width="2.6" stroke-linecap="round"/>
<path d="M822.1 1316.0v11M923.2 1316.0v11M1024.3 1316.0v11M1125.4 1316.0v11M1226.5 1316.0v11M1327.6 1316.0v11" stroke="#000" stroke-width="3.6" stroke-linecap="round"/>
<text x="795.6" y="1357.0" font-size="31.5">10</text>
<text x="833.9" y="1341.5" font-size="21">0</text>
<text x="896.7" y="1357.0" font-size="31.5">10</text>
<text x="935.0" y="1341.5" font-size="21">1</text>
<text x="997.8" y="1357.0" font-size="31.5">10</text>
<text x="1036.1" y="1341.5" font-size="21">2</text>
<text x="1098.9" y="1357.0" font-size="31.5">10</text>
<text x="1137.2" y="1341.5" font-size="21">3</text>
<text x="1200.0" y="1357.0" font-size="31.5">10</text>
<text x="1238.3" y="1341.5" font-size="21">4</text>
<text x="1301.1" y="1357.0" font-size="31.5">10</text>
<text x="1339.4" y="1341.5" font-size="21">5</text>
<path d="M820.3 1281.4h-6.5M820.3 1261.8h-6.5M820.3 1247.9h-6.5M820.3 1237.1h-6.5M820.3 1228.2h-6.5M820.3 1220.8h-6.5M820.3 1214.3h-6.5M820.3 1208.6h-6.5M820.3 1169.5h-6.5M820.3 1149.6h-6.5M820.3 1135.5h-6.5M820.3 1124.5h-6.5M820.3 1115.6h-6.5M820.3 1108.0h-6.5M820.3 1101.5h-6.5M820.3 1095.7h-6.5M820.3 1056.5h-6.5M820.3 1036.6h-6.5M820.3 1022.5h-6.5M820.3 1011.5h-6.5M820.3 1002.6h-6.5M820.3 995.0h-6.5M820.3 988.5h-6.5M820.3 982.7h-6.5M820.3 943.6h-6.5M820.3 923.8h-6.5M820.3 909.7h-6.5M820.3 898.8h-6.5M820.3 889.9h-6.5M820.3 882.3h-6.5M820.3 875.8h-6.5M820.3 870.1h-6.5M820.3 830.6h-6.5M820.3 810.6h-6.5M820.3 796.3h-6.5M820.3 785.3h-6.5M820.3 776.3h-6.5M820.3 768.6h-6.5M820.3 762.0h-6.5M820.3 756.2h-6.5" stroke="#000" stroke-width="2.6" stroke-linecap="round"/>
<path d="M820.3 1315.0h-11M820.3 1203.5h-11M820.3 1090.5h-11M820.3 977.5h-11M820.3 864.9h-11M820.3 751.0h-11" stroke="#000" stroke-width="3.6" stroke-linecap="round"/>
<text transform="translate(809.8,1341.6) rotate(-90)" font-size="31.5">10</text>
<text transform="translate(793.8,1302.6) rotate(-90)" font-size="21">0</text>
<text transform="translate(809.8,1230.1) rotate(-90)" font-size="31.5">10</text>
<text transform="translate(793.8,1191.1) rotate(-90)" font-size="21">1</text>
<text transform="translate(809.8,1117.1) rotate(-90)" font-size="31.5">10</text>
<text transform="translate(793.8,1078.1) rotate(-90)" font-size="21">2</text>
<text transform="translate(809.8,1004.1) rotate(-90)" font-size="31.5">10</text>
<text transform="translate(793.8,965.1) rotate(-90)" font-size="21">3</text>
<text transform="translate(809.8,891.5) rotate(-90)" font-size="31.5">10</text>
<text transform="translate(793.8,852.5) rotate(-90)" font-size="21">4</text>
<text transform="translate(809.8,777.6) rotate(-90)" font-size="31.5">10</text>
<text transform="translate(793.8,738.6) rotate(-90)" font-size="21">5</text>
<text x="704.5" y="732.3" font-size="29" font-weight="bold">E</text>
<text x="817.7" y="742.2" font-size="29" textLength="394.5" lengthAdjust="spacingAndGlyphs">Plot P02, gated on P01.R1</text>
<text x="851.5" y="1394.7" font-size="29.5" textLength="431.5" lengthAdjust="spacingAndGlyphs">Alexa Fluor 488 (GRN-HLog)</text>
<text transform="translate(765.5,1040.3) rotate(-90)" font-size="31" text-anchor="middle" textLength="492" lengthAdjust="spacingAndGlyphs">Red2 Fluorescence (RED2-HLog)</text>
<text x="1220.0" y="786.7" font-size="38.5" font-style="italic" textLength="103.7" lengthAdjust="spacingAndGlyphs">E. coli</text>
<text x="0.5" y="1451.0" font-size="26" font-weight="bold">D</text>
<rect x="116.2" y="1470.5" width="9.6" height="339.8"/>
<rect x="105.0" y="1800.7" width="514.5" height="9.6"/>
<rect x="105.0" y="1800.7" width="16" height="9.6"/>
<text x="104.5" y="1812.7" font-size="23.5" font-weight="bold" text-anchor="end">0%</text>
<rect x="105.0" y="1718.2" width="16" height="9.6"/>
<text x="104.5" y="1730.2" font-size="23.5" font-weight="bold" text-anchor="end">20%</text>
<rect x="105.0" y="1635.7" width="16" height="9.6"/>
<text x="104.5" y="1647.7" font-size="23.5" font-weight="bold" text-anchor="end">40%</text>
<rect x="105.0" y="1553.2" width="16" height="9.6"/>
<text x="104.5" y="1565.2" font-size="23.5" font-weight="bold" text-anchor="end">60%</text>
<rect x="105.0" y="1470.7" width="16" height="9.6"/>
<text x="104.5" y="1482.7" font-size="23.5" font-weight="bold" text-anchor="end">80%</text>
<rect x="199.2" y="1805.5" width="9.6" height="17.0"/>
<rect x="365.2" y="1805.5" width="9.6" height="17.0"/>
<rect x="530.7" y="1805.5" width="9.6" height="17.0"/>
<text transform="translate(273.5,1830.0) rotate(-45)" font-size="41.8" text-anchor="end">Ctrl-R3</text>
<text transform="translate(439.5,1830.0) rotate(-45)" font-size="41.8" text-anchor="end">1hr-R3</text>
<text transform="translate(605.0,1830.0) rotate(-45)" font-size="41.8" text-anchor="end">3hr-R3</text>
<text transform="translate(38.2,1633.9) rotate(-90)" font-size="47" text-anchor="middle" textLength="299" lengthAdjust="spacingAndGlyphs">%phagocytosis</text>
<text x="405.3" y="1471.4" font-size="39" font-style="italic" textLength="221.5" lengthAdjust="spacingAndGlyphs">S. cerevisiae</text>
<rect x="148" y="1795" width="112" height="12"/>
<line x1="176.5" y1="1784.5" x2="231.5" y2="1784.5" stroke="#000" stroke-width="6.7" stroke-linecap="round"/>
<line x1="204.0" y1="1784.5" x2="204.0" y2="1800.0" stroke="#000" stroke-width="6.6" stroke-linecap="butt"/>
<circle cx="204.2" cy="1776.6" r="7.7"/>
<circle cx="180.6" cy="1805.0" r="7.7"/>
<circle cx="227.9" cy="1805.0" r="7.7"/>
<line x1="369.6" y1="1526.7" x2="369.6" y2="1746.4" stroke="#000" stroke-width="7" stroke-linecap="butt"/>
<line x1="342.6" y1="1526.7" x2="397.6" y2="1526.7" stroke="#000" stroke-width="7.5" stroke-linecap="round"/>
<line x1="342.6" y1="1746.4" x2="397.6" y2="1746.4" stroke="#000" stroke-width="7.5" stroke-linecap="round"/>
<line x1="313.8" y1="1636.8" x2="426.1" y2="1636.8" stroke="#000" stroke-width="8" stroke-linecap="butt"/>
<rect x="361.0" y="1469.7" width="17.4" height="17.4"/>
<rect x="361.0" y="1640.3" width="17.4" height="17.4"/>
<rect x="372.5" y="1690.8" width="17.4" height="17.4"/>
<rect x="349.8" y="1712.3" width="17.4" height="17.4"/>
<text x="366.6" y="1477.5" font-size="46.6" font-weight="bold" text-anchor="middle">*</text>
<line x1="535.4" y1="1669.0" x2="535.4" y2="1767.5" stroke="#000" stroke-width="7" stroke-linecap="butt"/>
<line x1="507.7" y1="1669.0" x2="563.1" y2="1669.0" stroke="#000" stroke-width="7.5" stroke-linecap="round"/>
<line x1="507.7" y1="1767.5" x2="563.1" y2="1767.5" stroke="#000" stroke-width="7.5" stroke-linecap="round"/>
<line x1="480.2" y1="1718.0" x2="591.0" y2="1718.0" stroke="#000" stroke-width="8" stroke-linecap="butt"/>
<polygon points="535.4,1638.5 543.5,1654.0 527.2,1654.0"/>
<polygon points="535.5,1720.0 543.6,1736.0 527.4,1736.0"/>
<polygon points="547.5,1734.3 555.6,1750.2 539.4,1750.2"/>
<polygon points="523.6,1748.1 531.8,1764.5 515.5,1764.5"/>
<text x="704.0" y="1450.6" font-size="26" font-weight="bold">F</text>
<rect x="818.6" y="1468.2" width="7.2" height="339.7"/>
<rect x="806.2" y="1800.7" width="514.2" height="7.2"/>
<rect x="806.2" y="1800.7" width="16" height="7.2"/>
<text x="805.7" y="1811.5" font-size="23.5" font-weight="bold" text-anchor="end">0%</text>
<rect x="806.2" y="1717.9" width="16" height="7.2"/>
<text x="805.7" y="1728.7" font-size="23.5" font-weight="bold" text-anchor="end">20%</text>
<rect x="806.2" y="1635.2" width="16" height="7.2"/>
<text x="805.7" y="1646.0" font-size="23.5" font-weight="bold" text-anchor="end">40%</text>
<rect x="806.2" y="1552.4" width="16" height="7.2"/>
<text x="805.7" y="1563.2" font-size="23.5" font-weight="bold" text-anchor="end">60%</text>
<rect x="806.2" y="1469.6" width="16" height="7.2"/>
<text x="805.7" y="1480.4" font-size="23.5" font-weight="bold" text-anchor="end">80%</text>
<rect x="901.7" y="1804.3" width="7.2" height="17.0"/>
<rect x="1068.1" y="1804.3" width="7.2" height="17.0"/>
<rect x="1234.1" y="1804.3" width="7.2" height="17.0"/>
<text transform="translate(971.3,1830.0) rotate(-45)" font-size="41.8" text-anchor="end">Ctrl-R2</text>
<text transform="translate(1137.7,1830.0) rotate(-45)" font-size="41.8" text-anchor="end">1hr-R2</text>
<text transform="translate(1303.7,1830.0) rotate(-45)" font-size="41.8" text-anchor="end">3hr-R2</text>
<text transform="translate(733.4,1634.7) rotate(-90)" font-size="47" text-anchor="middle" textLength="284" lengthAdjust="spacingAndGlyphs">%phagocytosis</text>
<text x="860.7" y="1472.1" font-size="40" font-style="italic" textLength="104.3" lengthAdjust="spacingAndGlyphs">E. coli</text>
<line x1="849.2" y1="1778.9" x2="961.1" y2="1778.9" stroke="#000" stroke-width="4.5" stroke-linecap="butt"/>
<rect x="876" y="1772" width="58" height="12" rx="3"/>
<circle cx="878.3" cy="1776.2" r="6.6"/>
<circle cx="933.0" cy="1776.0" r="6.6"/>
<circle cx="896.1" cy="1784.3" r="6.6"/>
<circle cx="914.6" cy="1776.5" r="6.6"/>
<line x1="1071.7" y1="1527.4" x2="1071.7" y2="1557.4" stroke="#000" stroke-width="4.5" stroke-linecap="butt"/>
<line x1="1043.6" y1="1527.4" x2="1099.0" y2="1527.4" stroke="#000" stroke-width="4.5" stroke-linecap="round"/>
<line x1="1043.6" y1="1557.4" x2="1099.0" y2="1557.4" stroke="#000" stroke-width="4.5" stroke-linecap="round"/>
<line x1="1015.4" y1="1542.8" x2="1127.2" y2="1542.8" stroke="#000" stroke-width="4.7" stroke-linecap="butt"/>
<rect x="1083.2" y="1517.5" width="13.5" height="13.5"/>
<rect x="1046.5" y="1534.3" width="13.5" height="13.5"/>
<rect x="1065.0" y="1535.5" width="13.5" height="13.5"/>
<rect x="1065.0" y="1555.0" width="13.5" height="13.5"/>
<text x="1072.7" y="1516.3" font-size="46.6" font-weight="bold" text-anchor="middle" textLength="77" lengthAdjust="spacingAndGlyphs">****</text>
<line x1="1237.7" y1="1516.0" x2="1237.7" y2="1542.8" stroke="#000" stroke-width="4.5" stroke-linecap="butt"/>
<line x1="1210.3" y1="1516.0" x2="1265.1" y2="1516.0" stroke="#000" stroke-width="4.5" stroke-linecap="round"/>
<line x1="1210.3" y1="1542.8" x2="1265.1" y2="1542.8" stroke="#000" stroke-width="4.5" stroke-linecap="round"/>
<line x1="1181.0" y1="1529.0" x2="1293.3" y2="1529.0" stroke="#000" stroke-width="4.7" stroke-linecap="butt"/>
<polygon points="1218.8,1518.0 1225.0,1527.4 1212.5,1527.4"/>
<polygon points="1237.7,1518.0 1244.0,1527.4 1231.5,1527.4"/>
<polygon points="1255.4,1518.0 1261.7,1527.4 1249.2,1527.4"/>
<polygon points="1237.7,1544.0 1244.0,1554.6 1231.5,1554.6"/>
<text x="1238.1" y="1516.3" font-size="46.6" font-weight="bold" text-anchor="middle" textLength="76.4" lengthAdjust="spacingAndGlyphs">****</text>
</svg></body></html>
